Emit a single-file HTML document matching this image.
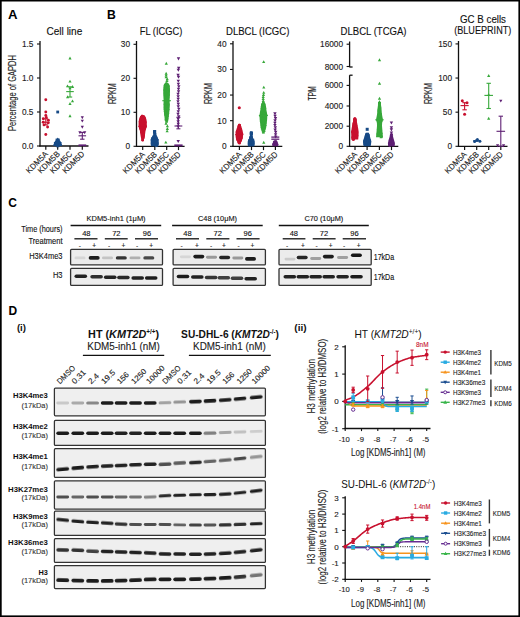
<!DOCTYPE html>
<html><head><meta charset="utf-8"><style>
html,body{margin:0;padding:0;background:#fff;}
body{width:520px;height:617px;overflow:hidden;font-family:"Liberation Sans", sans-serif;}
svg{display:block;}
</style></head><body>
<svg width="520" height="617" viewBox="0 0 520 617" font-family='"Liberation Sans", sans-serif'>
<rect x="0.00" y="0.00" width="520.00" height="617.00" fill="#fff" stroke="none" stroke-width="1" />
<defs><filter id="bl" x="-20%" y="-100%" width="140%" height="300%"><feGaussianBlur stdDeviation="0.7"/></filter><filter id="bl2" x="-20%" y="-100%" width="140%" height="300%"><feGaussianBlur stdDeviation="0.45"/></filter></defs>
<text x="8.00" y="19.00" font-size="13.2" text-anchor="start" fill="#000" font-weight="bold" >A</text>
<text x="107.00" y="19.20" font-size="12.2" text-anchor="start" fill="#000" font-weight="bold" >B</text>
<text x="8.20" y="206.70" font-size="12.0" text-anchor="start" fill="#000" font-weight="bold" >C</text>
<text x="8.40" y="314.80" font-size="12.0" text-anchor="start" fill="#000" font-weight="bold" >D</text>
<text x="46.50" y="35.00" font-size="10.3" text-anchor="start" fill="#111" stroke="#111" stroke-width="0.12" textLength="35.80" lengthAdjust="spacingAndGlyphs" >Cell line</text>
<text x="16.20" y="93.00" font-size="10.8" text-anchor="middle" fill="#222" stroke="#222" stroke-width="0.12" textLength="76.00" lengthAdjust="spacingAndGlyphs" transform="rotate(-90 16.20 93.00)" >Percentage of GAPDH</text>
<line x1="40.00" y1="41.00" x2="40.00" y2="146.60" stroke="#111" stroke-width="1.3" />
<line x1="37.00" y1="44.00" x2="40.00" y2="44.00" stroke="#111" stroke-width="1.1" />
<text x="33.50" y="47.00" font-size="8.3" text-anchor="end" fill="#222" stroke="#222" stroke-width="0.12" >1.5</text>
<line x1="37.00" y1="78.00" x2="40.00" y2="78.00" stroke="#111" stroke-width="1.1" />
<text x="33.50" y="81.00" font-size="8.3" text-anchor="end" fill="#222" stroke="#222" stroke-width="0.12" >1.0</text>
<line x1="37.00" y1="112.00" x2="40.00" y2="112.00" stroke="#111" stroke-width="1.1" />
<text x="33.50" y="115.00" font-size="8.3" text-anchor="end" fill="#222" stroke="#222" stroke-width="0.12" >0.5</text>
<line x1="37.00" y1="146.00" x2="40.00" y2="146.00" stroke="#111" stroke-width="1.1" />
<text x="33.50" y="149.00" font-size="8.3" text-anchor="end" fill="#222" stroke="#222" stroke-width="0.12" >0.0</text>
<line x1="39.40" y1="146.00" x2="88.50" y2="146.00" stroke="#111" stroke-width="1.3" />
<line x1="45.80" y1="146.00" x2="45.80" y2="149.80" stroke="#111" stroke-width="1.2" />
<line x1="57.70" y1="146.00" x2="57.70" y2="149.80" stroke="#111" stroke-width="1.2" />
<line x1="70.00" y1="146.00" x2="70.00" y2="149.80" stroke="#111" stroke-width="1.2" />
<line x1="82.30" y1="146.00" x2="82.30" y2="149.80" stroke="#111" stroke-width="1.2" />
<text x="48.60" y="154.60" font-size="8.2" text-anchor="end" fill="#222" stroke="#222" stroke-width="0.12" textLength="27.50" lengthAdjust="spacingAndGlyphs" transform="rotate(-45 48.60 154.60)" >KDM5A</text>
<text x="60.50" y="154.60" font-size="8.2" text-anchor="end" fill="#222" stroke="#222" stroke-width="0.12" textLength="27.50" lengthAdjust="spacingAndGlyphs" transform="rotate(-45 60.50 154.60)" >KDM5B</text>
<text x="72.80" y="154.60" font-size="8.2" text-anchor="end" fill="#222" stroke="#222" stroke-width="0.12" textLength="27.50" lengthAdjust="spacingAndGlyphs" transform="rotate(-45 72.80 154.60)" >KDM5C</text>
<text x="85.10" y="154.60" font-size="8.2" text-anchor="end" fill="#222" stroke="#222" stroke-width="0.12" textLength="27.50" lengthAdjust="spacingAndGlyphs" transform="rotate(-45 85.10 154.60)" >KDM5D</text>
<circle cx="45.80" cy="99.76" r="1.45" fill="#c8102e"/>
<circle cx="45.80" cy="112.00" r="1.45" fill="#c8102e"/>
<circle cx="45.80" cy="115.40" r="1.45" fill="#c8102e"/>
<circle cx="43.30" cy="118.80" r="1.45" fill="#c8102e"/>
<circle cx="48.40" cy="120.16" r="1.45" fill="#c8102e"/>
<circle cx="43.20" cy="122.20" r="1.45" fill="#c8102e"/>
<circle cx="48.20" cy="122.88" r="1.45" fill="#c8102e"/>
<circle cx="44.00" cy="124.92" r="1.45" fill="#c8102e"/>
<circle cx="47.60" cy="126.96" r="1.45" fill="#c8102e"/>
<circle cx="45.80" cy="134.44" r="1.45" fill="#c8102e"/>
<circle cx="46.30" cy="117.44" r="1.45" fill="#c8102e"/>
<line x1="42.00" y1="122.20" x2="49.60" y2="122.20" stroke="#c8102e" stroke-width="1.1" />
<line x1="45.80" y1="124.92" x2="45.80" y2="118.80" stroke="#c8102e" stroke-width="1.1" />
<line x1="43.60" y1="124.92" x2="48.00" y2="124.92" stroke="#c8102e" stroke-width="1.1" />
<line x1="43.60" y1="118.80" x2="48.00" y2="118.80" stroke="#c8102e" stroke-width="1.1" />
<rect x="56.30" y="110.60" width="2.80" height="2.80" fill="#174a86"/>
<path d="M56.90 138.50 L55.70 140.00 L54.20 142.50 L53.50 145.00 L53.50 146.00 L61.90 146.00 L61.90 145.00 L61.20 142.50 L59.70 140.00 L58.50 138.50Z" fill="#174a86"/>
<path d="M54.70 142.84L56.35 145.84L53.05 145.84Z" fill="#174a86"/>
<path d="M60.70 142.84L62.35 145.84L59.05 145.84Z" fill="#174a86"/>
<path d="M57.70 137.40L59.35 140.40L56.05 140.40Z" fill="#174a86"/>
<path d="M55.70 140.80L57.35 143.80L54.05 143.80Z" fill="#174a86"/>
<path d="M59.70 140.80L61.35 143.80L58.05 143.80Z" fill="#174a86"/>
<path d="M57.70 144.20L59.35 147.20L56.05 147.20Z" fill="#174a86"/>
<line x1="53.90" y1="142.60" x2="61.50" y2="142.60" stroke="#174a86" stroke-width="1.1" />
<line x1="57.70" y1="146.00" x2="57.70" y2="139.20" stroke="#174a86" stroke-width="1.1" />
<line x1="55.50" y1="146.00" x2="59.90" y2="146.00" stroke="#174a86" stroke-width="1.1" />
<line x1="55.50" y1="139.20" x2="59.90" y2="139.20" stroke="#174a86" stroke-width="1.1" />
<path d="M70.00 56.54L71.59 59.44L68.41 59.44Z" fill="#37a83a"/>
<path d="M70.00 79.66L71.59 82.56L68.41 82.56Z" fill="#37a83a"/>
<path d="M67.50 84.42L69.09 87.32L65.91 87.32Z" fill="#37a83a"/>
<path d="M72.60 85.10L74.19 88.00L71.00 88.00Z" fill="#37a83a"/>
<path d="M70.00 86.46L71.59 89.36L68.41 89.36Z" fill="#37a83a"/>
<path d="M67.60 95.30L69.19 98.20L66.00 98.20Z" fill="#37a83a"/>
<path d="M72.50 99.38L74.09 102.28L70.91 102.28Z" fill="#37a83a"/>
<path d="M70.00 102.10L71.59 105.00L68.41 105.00Z" fill="#37a83a"/>
<path d="M70.00 114.34L71.59 117.24L68.41 117.24Z" fill="#37a83a"/>
<line x1="66.20" y1="91.60" x2="73.80" y2="91.60" stroke="#37a83a" stroke-width="1.1" />
<line x1="70.00" y1="97.04" x2="70.00" y2="86.84" stroke="#37a83a" stroke-width="1.1" />
<line x1="67.80" y1="97.04" x2="72.20" y2="97.04" stroke="#37a83a" stroke-width="1.1" />
<line x1="67.80" y1="86.84" x2="72.20" y2="86.84" stroke="#37a83a" stroke-width="1.1" />
<path d="M82.30 119.18L83.89 116.28L80.70 116.28Z" fill="#5e1f73"/>
<path d="M82.30 122.58L83.89 119.68L80.70 119.68Z" fill="#5e1f73"/>
<path d="M82.30 128.70L83.89 125.80L80.70 125.80Z" fill="#5e1f73"/>
<path d="M79.90 134.14L81.49 131.24L78.30 131.24Z" fill="#5e1f73"/>
<path d="M84.70 134.14L86.30 131.24L83.11 131.24Z" fill="#5e1f73"/>
<line x1="78.50" y1="135.80" x2="86.10" y2="135.80" stroke="#5e1f73" stroke-width="1.1" />
<line x1="82.30" y1="139.20" x2="82.30" y2="132.40" stroke="#5e1f73" stroke-width="1.1" />
<line x1="80.10" y1="139.20" x2="84.50" y2="139.20" stroke="#5e1f73" stroke-width="1.1" />
<line x1="80.10" y1="132.40" x2="84.50" y2="132.40" stroke="#5e1f73" stroke-width="1.1" />
<line x1="78.50" y1="145.30" x2="86.20" y2="145.30" stroke="#5e1f73" stroke-width="1.8" />
<text x="139.80" y="35.00" font-size="10.3" text-anchor="start" fill="#111" stroke="#111" stroke-width="0.12" textLength="42.50" lengthAdjust="spacingAndGlyphs" >FL (ICGC)</text>
<text x="115.60" y="93.60" font-size="10.4" text-anchor="middle" fill="#222" stroke="#222" stroke-width="0.12" textLength="21.00" lengthAdjust="spacingAndGlyphs" transform="rotate(-90 115.60 93.60)" >RPKM</text>
<line x1="136.50" y1="41.00" x2="136.50" y2="146.90" stroke="#111" stroke-width="1.3" />
<line x1="133.50" y1="44.30" x2="136.50" y2="44.30" stroke="#111" stroke-width="1.1" />
<text x="130.00" y="47.30" font-size="8.3" text-anchor="end" fill="#222" stroke="#222" stroke-width="0.12" >30</text>
<line x1="133.50" y1="78.30" x2="136.50" y2="78.30" stroke="#111" stroke-width="1.1" />
<text x="130.00" y="81.30" font-size="8.3" text-anchor="end" fill="#222" stroke="#222" stroke-width="0.12" >20</text>
<line x1="133.50" y1="112.30" x2="136.50" y2="112.30" stroke="#111" stroke-width="1.1" />
<text x="130.00" y="115.30" font-size="8.3" text-anchor="end" fill="#222" stroke="#222" stroke-width="0.12" >10</text>
<line x1="133.50" y1="146.30" x2="136.50" y2="146.30" stroke="#111" stroke-width="1.1" />
<text x="130.00" y="149.30" font-size="8.3" text-anchor="end" fill="#222" stroke="#222" stroke-width="0.12" >0</text>
<line x1="135.90" y1="146.30" x2="184.60" y2="146.30" stroke="#111" stroke-width="1.3" />
<line x1="142.70" y1="146.30" x2="142.70" y2="150.10" stroke="#111" stroke-width="1.2" />
<line x1="154.80" y1="146.30" x2="154.80" y2="150.10" stroke="#111" stroke-width="1.2" />
<line x1="166.70" y1="146.30" x2="166.70" y2="150.10" stroke="#111" stroke-width="1.2" />
<line x1="178.50" y1="146.30" x2="178.50" y2="150.10" stroke="#111" stroke-width="1.2" />
<text x="145.50" y="154.90" font-size="8.2" text-anchor="end" fill="#222" stroke="#222" stroke-width="0.12" textLength="27.50" lengthAdjust="spacingAndGlyphs" transform="rotate(-45 145.50 154.90)" >KDM5A</text>
<text x="157.60" y="154.90" font-size="8.2" text-anchor="end" fill="#222" stroke="#222" stroke-width="0.12" textLength="27.50" lengthAdjust="spacingAndGlyphs" transform="rotate(-45 157.60 154.90)" >KDM5B</text>
<text x="169.50" y="154.90" font-size="8.2" text-anchor="end" fill="#222" stroke="#222" stroke-width="0.12" textLength="27.50" lengthAdjust="spacingAndGlyphs" transform="rotate(-45 169.50 154.90)" >KDM5C</text>
<text x="181.30" y="154.90" font-size="8.2" text-anchor="end" fill="#222" stroke="#222" stroke-width="0.12" textLength="27.50" lengthAdjust="spacingAndGlyphs" transform="rotate(-45 181.30 154.90)" >KDM5D</text>
<path d="M141.20 115.20 L139.90 117.00 L139.10 119.00 L138.60 121.50 L138.60 126.00 L139.20 128.50 L139.90 131.00 L140.30 134.00 L140.90 137.60 L141.70 140.50 L143.70 140.50 L144.50 137.60 L145.10 134.00 L145.50 131.00 L146.20 128.50 L146.80 126.00 L146.80 121.50 L146.30 119.00 L145.50 117.00 L144.20 115.20Z" fill="#c8102e"/>
<circle cx="140.60" cy="121.29" r="1.30" fill="#c8102e"/>
<circle cx="142.06" cy="115.98" r="1.30" fill="#c8102e"/>
<circle cx="142.13" cy="116.14" r="1.30" fill="#c8102e"/>
<circle cx="140.77" cy="125.56" r="1.30" fill="#c8102e"/>
<circle cx="140.53" cy="128.40" r="1.30" fill="#c8102e"/>
<circle cx="141.26" cy="117.23" r="1.30" fill="#c8102e"/>
<circle cx="140.95" cy="129.12" r="1.30" fill="#c8102e"/>
<circle cx="141.03" cy="124.07" r="1.30" fill="#c8102e"/>
<circle cx="143.29" cy="136.61" r="1.30" fill="#c8102e"/>
<circle cx="144.63" cy="128.17" r="1.30" fill="#c8102e"/>
<circle cx="141.42" cy="131.41" r="1.30" fill="#c8102e"/>
<circle cx="143.77" cy="130.38" r="1.30" fill="#c8102e"/>
<circle cx="141.49" cy="132.23" r="1.30" fill="#c8102e"/>
<circle cx="145.08" cy="127.17" r="1.30" fill="#c8102e"/>
<circle cx="144.71" cy="126.48" r="1.30" fill="#c8102e"/>
<circle cx="140.50" cy="119.59" r="1.30" fill="#c8102e"/>
<circle cx="144.69" cy="119.49" r="1.30" fill="#c8102e"/>
<circle cx="143.18" cy="137.15" r="1.30" fill="#c8102e"/>
<circle cx="142.70" cy="139.98" r="1.30" fill="#c8102e"/>
<circle cx="143.95" cy="117.97" r="1.30" fill="#c8102e"/>
<circle cx="140.06" cy="127.00" r="1.30" fill="#c8102e"/>
<circle cx="143.57" cy="116.46" r="1.30" fill="#c8102e"/>
<circle cx="145.08" cy="122.18" r="1.30" fill="#c8102e"/>
<circle cx="139.90" cy="126.26" r="1.30" fill="#c8102e"/>
<circle cx="141.10" cy="126.67" r="1.30" fill="#c8102e"/>
<circle cx="143.72" cy="131.94" r="1.30" fill="#c8102e"/>
<circle cx="144.34" cy="123.62" r="1.30" fill="#c8102e"/>
<circle cx="140.36" cy="126.39" r="1.30" fill="#c8102e"/>
<circle cx="140.31" cy="127.11" r="1.30" fill="#c8102e"/>
<circle cx="141.42" cy="117.33" r="1.30" fill="#c8102e"/>
<circle cx="142.95" cy="138.33" r="1.30" fill="#c8102e"/>
<circle cx="145.45" cy="126.11" r="1.30" fill="#c8102e"/>
<circle cx="143.57" cy="135.34" r="1.30" fill="#c8102e"/>
<circle cx="142.70" cy="140.15" r="1.30" fill="#c8102e"/>
<circle cx="141.52" cy="117.72" r="1.30" fill="#c8102e"/>
<circle cx="141.41" cy="130.82" r="1.30" fill="#c8102e"/>
<circle cx="144.13" cy="129.26" r="1.30" fill="#c8102e"/>
<circle cx="144.25" cy="117.62" r="1.30" fill="#c8102e"/>
<circle cx="140.24" cy="121.17" r="1.30" fill="#c8102e"/>
<circle cx="140.78" cy="127.60" r="1.30" fill="#c8102e"/>
<path d="M153.20 130.10 L153.20 136.00 L151.90 137.50 L150.80 139.50 L150.60 144.00 L151.20 146.30 L158.20 146.30 L158.80 144.00 L158.60 139.50 L157.50 137.50 L156.20 136.00 L156.20 130.10Z" fill="#174a86"/>
<rect x="155.38" y="143.52" width="2.60" height="2.60" fill="#174a86"/>
<rect x="154.73" y="136.16" width="2.60" height="2.60" fill="#174a86"/>
<rect x="153.07" y="130.64" width="2.60" height="2.60" fill="#174a86"/>
<rect x="152.10" y="136.61" width="2.60" height="2.60" fill="#174a86"/>
<rect x="153.13" y="130.35" width="2.60" height="2.60" fill="#174a86"/>
<rect x="155.37" y="137.57" width="2.60" height="2.60" fill="#174a86"/>
<rect x="153.13" y="130.87" width="2.60" height="2.60" fill="#174a86"/>
<rect x="153.72" y="133.18" width="2.60" height="2.60" fill="#174a86"/>
<rect x="155.05" y="138.25" width="2.60" height="2.60" fill="#174a86"/>
<rect x="155.53" y="143.26" width="2.60" height="2.60" fill="#174a86"/>
<rect x="152.77" y="135.54" width="2.60" height="2.60" fill="#174a86"/>
<rect x="154.36" y="135.77" width="2.60" height="2.60" fill="#174a86"/>
<rect x="151.59" y="140.27" width="2.60" height="2.60" fill="#174a86"/>
<rect x="154.92" y="144.45" width="2.60" height="2.60" fill="#174a86"/>
<rect x="151.25" y="137.63" width="2.60" height="2.60" fill="#174a86"/>
<rect x="152.56" y="135.44" width="2.60" height="2.60" fill="#174a86"/>
<rect x="154.10" y="135.16" width="2.60" height="2.60" fill="#174a86"/>
<rect x="152.34" y="135.87" width="2.60" height="2.60" fill="#174a86"/>
<rect x="155.83" y="142.23" width="2.60" height="2.60" fill="#174a86"/>
<rect x="150.90" y="138.50" width="2.60" height="2.60" fill="#174a86"/>
<rect x="151.56" y="142.91" width="2.60" height="2.60" fill="#174a86"/>
<rect x="151.27" y="137.13" width="2.60" height="2.60" fill="#174a86"/>
<rect x="155.35" y="142.48" width="2.60" height="2.60" fill="#174a86"/>
<rect x="155.52" y="140.28" width="2.60" height="2.60" fill="#174a86"/>
<path d="M165.30 82.70 L163.60 85.00 L163.20 90.00 L163.30 95.00 L163.60 100.00 L163.50 105.00 L163.60 109.00 L164.10 114.00 L164.70 119.00 L165.60 121.50 L167.60 121.50 L168.50 119.00 L169.10 114.00 L169.60 109.00 L169.70 105.00 L169.60 100.00 L169.90 95.00 L170.00 90.00 L169.60 85.00 L167.90 82.70Z" fill="#37a83a"/>
<path d="M166.93 118.52L168.36 121.12L165.50 121.12Z" fill="#37a83a"/>
<path d="M165.38 94.85L166.81 97.45L163.95 97.45Z" fill="#37a83a"/>
<path d="M167.79 99.59L169.22 102.19L166.36 102.19Z" fill="#37a83a"/>
<path d="M165.17 105.91L166.60 108.51L163.74 108.51Z" fill="#37a83a"/>
<path d="M164.89 106.95L166.32 109.55L163.46 109.55Z" fill="#37a83a"/>
<path d="M168.28 83.84L169.71 86.44L166.85 86.44Z" fill="#37a83a"/>
<path d="M167.98 111.20L169.41 113.80L166.55 113.80Z" fill="#37a83a"/>
<path d="M167.69 97.97L169.12 100.57L166.26 100.57Z" fill="#37a83a"/>
<path d="M166.80 118.73L168.23 121.33L165.37 121.33Z" fill="#37a83a"/>
<path d="M165.30 110.89L166.73 113.49L163.87 113.49Z" fill="#37a83a"/>
<path d="M165.45 86.09L166.88 88.69L164.02 88.69Z" fill="#37a83a"/>
<path d="M168.33 104.71L169.76 107.31L166.90 107.31Z" fill="#37a83a"/>
<path d="M168.25 85.02L169.68 87.62L166.82 87.62Z" fill="#37a83a"/>
<path d="M165.43 94.21L166.86 96.81L164.00 96.81Z" fill="#37a83a"/>
<path d="M165.65 113.41L167.08 116.01L164.22 116.01Z" fill="#37a83a"/>
<path d="M166.97 118.45L168.40 121.05L165.54 121.05Z" fill="#37a83a"/>
<path d="M165.40 87.21L166.83 89.81L163.97 89.81Z" fill="#37a83a"/>
<path d="M164.64 88.02L166.07 90.62L163.21 90.62Z" fill="#37a83a"/>
<path d="M168.58 93.11L170.01 95.71L167.15 95.71Z" fill="#37a83a"/>
<path d="M167.61 82.40L169.04 85.00L166.18 85.00Z" fill="#37a83a"/>
<path d="M168.29 107.29L169.72 109.89L166.86 109.89Z" fill="#37a83a"/>
<path d="M165.98 116.96L167.41 119.56L164.55 119.56Z" fill="#37a83a"/>
<path d="M164.81 102.00L166.24 104.60L163.38 104.60Z" fill="#37a83a"/>
<path d="M165.40 112.38L166.83 114.98L163.97 114.98Z" fill="#37a83a"/>
<path d="M165.10 85.18L166.53 87.78L163.67 87.78Z" fill="#37a83a"/>
<path d="M165.51 110.07L166.94 112.67L164.08 112.67Z" fill="#37a83a"/>
<path d="M168.31 101.77L169.74 104.37L166.88 104.37Z" fill="#37a83a"/>
<path d="M165.44 83.34L166.87 85.94L164.01 85.94Z" fill="#37a83a"/>
<path d="M164.90 90.90L166.33 93.50L163.47 93.50Z" fill="#37a83a"/>
<path d="M165.16 103.66L166.59 106.26L163.73 106.26Z" fill="#37a83a"/>
<path d="M164.98 105.49L166.41 108.09L163.55 108.09Z" fill="#37a83a"/>
<path d="M168.03 98.80L169.46 101.40L166.60 101.40Z" fill="#37a83a"/>
<path d="M168.73 89.58L170.16 92.18L167.30 92.18Z" fill="#37a83a"/>
<path d="M165.95 117.53L167.38 120.13L164.52 120.13Z" fill="#37a83a"/>
<path d="M165.20 84.61L166.63 87.21L163.77 87.21Z" fill="#37a83a"/>
<path d="M165.01 92.66L166.44 95.26L163.58 95.26Z" fill="#37a83a"/>
<path d="M168.58 88.01L170.01 90.61L167.15 90.61Z" fill="#37a83a"/>
<path d="M165.95 117.62L167.38 120.22L164.52 120.22Z" fill="#37a83a"/>
<path d="M167.74 106.60L169.17 109.20L166.31 109.20Z" fill="#37a83a"/>
<path d="M167.09 117.17L168.52 119.77L165.66 119.77Z" fill="#37a83a"/>
<path d="M166.80 118.87L168.23 121.47L165.37 121.47Z" fill="#37a83a"/>
<path d="M165.34 85.77L166.77 88.37L163.91 88.37Z" fill="#37a83a"/>
<path d="M167.91 97.86L169.34 100.46L166.48 100.46Z" fill="#37a83a"/>
<path d="M167.86 87.25L169.29 89.85L166.43 89.85Z" fill="#37a83a"/>
<path d="M168.23 94.91L169.66 97.51L166.80 97.51Z" fill="#37a83a"/>
<path d="M165.27 98.26L166.70 100.86L163.84 100.86Z" fill="#37a83a"/>
<path d="M168.08 101.72L169.51 104.32L166.65 104.32Z" fill="#37a83a"/>
<path d="M165.50 82.47L166.93 85.07L164.07 85.07Z" fill="#37a83a"/>
<path d="M167.77 83.31L169.20 85.91L166.34 85.91Z" fill="#37a83a"/>
<path d="M166.20 117.82L167.63 120.42L164.77 120.42Z" fill="#37a83a"/>
<path d="M168.37 84.27L169.80 86.87L166.94 86.87Z" fill="#37a83a"/>
<path d="M167.91 107.86L169.34 110.46L166.48 110.46Z" fill="#37a83a"/>
<path d="M168.26 102.59L169.69 105.19L166.83 105.19Z" fill="#37a83a"/>
<path d="M165.24 82.99L166.67 85.59L163.81 85.59Z" fill="#37a83a"/>
<path d="M165.20 86.69L166.63 89.29L163.77 89.29Z" fill="#37a83a"/>
<path d="M166.25 81.49L167.68 84.09L164.82 84.09Z" fill="#37a83a"/>
<path d="M165.78 82.87L167.21 85.47L164.35 85.47Z" fill="#37a83a"/>
<path d="M167.08 116.26L168.51 118.86L165.65 118.86Z" fill="#37a83a"/>
<path d="M166.60 119.81L168.03 122.41L165.17 122.41Z" fill="#37a83a"/>
<path d="M165.35 90.49L166.78 93.09L163.92 93.09Z" fill="#37a83a"/>
<path d="M164.99 109.37L166.42 111.97L163.56 111.97Z" fill="#37a83a"/>
<path d="M165.19 90.23L166.62 92.83L163.76 92.83Z" fill="#37a83a"/>
<path d="M168.30 92.48L169.73 95.08L166.87 95.08Z" fill="#37a83a"/>
<path d="M168.28 87.70L169.71 90.30L166.85 90.30Z" fill="#37a83a"/>
<path d="M168.49 86.45L169.92 89.05L167.06 89.05Z" fill="#37a83a"/>
<path d="M166.60 119.82L168.03 122.42L165.17 122.42Z" fill="#37a83a"/>
<path d="M165.40 110.43L166.83 113.03L163.97 113.03Z" fill="#37a83a"/>
<path d="M167.92 89.50L169.35 92.10L166.49 92.10Z" fill="#37a83a"/>
<path d="M167.54 114.29L168.97 116.89L166.11 116.89Z" fill="#37a83a"/>
<path d="M168.50 103.01L169.93 105.61L167.07 105.61Z" fill="#37a83a"/>
<path d="M166.29 61.76L167.89 64.66L164.70 64.66Z" fill="#37a83a"/>
<path d="M166.14 71.76L167.74 74.66L164.55 74.66Z" fill="#37a83a"/>
<path d="M166.17 73.56L167.76 76.46L164.57 76.46Z" fill="#37a83a"/>
<path d="M166.12 75.46L167.71 78.36L164.52 78.36Z" fill="#37a83a"/>
<path d="M167.21 77.26L168.81 80.16L165.62 80.16Z" fill="#37a83a"/>
<path d="M166.97 79.06L168.56 81.96L165.37 81.96Z" fill="#37a83a"/>
<path d="M166.02 121.76L167.62 124.66L164.43 124.66Z" fill="#37a83a"/>
<path d="M167.38 124.46L168.98 127.36L165.79 127.36Z" fill="#37a83a"/>
<path d="M167.37 127.06L168.97 129.96L165.78 129.96Z" fill="#37a83a"/>
<path d="M167.14 129.46L168.73 132.36L165.54 132.36Z" fill="#37a83a"/>
<path d="M165.82 140.66L167.42 143.56L164.23 143.56Z" fill="#37a83a"/>
<line x1="162.30" y1="100.70" x2="170.90" y2="100.70" stroke="#37a83a" stroke-width="1.1" />
<path d="M178.50 60.46L180.21 57.36L176.80 57.36Z" fill="#5e1f73"/>
<path d="M178.70 69.86L180.41 66.76L177.00 66.76Z" fill="#5e1f73"/>
<path d="M178.34 71.86L180.05 68.76L176.64 68.76Z" fill="#5e1f73"/>
<path d="M178.04 76.86L179.75 73.76L176.34 73.76Z" fill="#5e1f73"/>
<path d="M178.53 78.86L180.24 75.76L176.83 75.76Z" fill="#5e1f73"/>
<path d="M178.30 82.86L180.01 79.76L176.60 79.76Z" fill="#5e1f73"/>
<path d="M178.40 85.86L180.11 82.76L176.70 82.76Z" fill="#5e1f73"/>
<path d="M178.78 88.36L180.48 85.26L177.07 85.26Z" fill="#5e1f73"/>
<path d="M178.48 90.86L180.18 87.76L176.77 87.76Z" fill="#5e1f73"/>
<path d="M178.55 93.36L180.26 90.26L176.85 90.26Z" fill="#5e1f73"/>
<path d="M178.04 95.86L179.74 92.76L176.33 92.76Z" fill="#5e1f73"/>
<path d="M178.15 98.36L179.85 95.26L176.44 95.26Z" fill="#5e1f73"/>
<path d="M178.22 100.86L179.92 97.76L176.51 97.76Z" fill="#5e1f73"/>
<path d="M178.00 103.36L179.71 100.26L176.30 100.26Z" fill="#5e1f73"/>
<path d="M178.29 105.86L180.00 102.76L176.59 102.76Z" fill="#5e1f73"/>
<path d="M178.26 108.36L179.97 105.26L176.56 105.26Z" fill="#5e1f73"/>
<path d="M178.79 110.86L180.49 107.76L177.08 107.76Z" fill="#5e1f73"/>
<path d="M178.26 113.36L179.96 110.26L176.55 110.26Z" fill="#5e1f73"/>
<path d="M178.03 115.86L179.73 112.76L176.32 112.76Z" fill="#5e1f73"/>
<path d="M178.71 118.36L180.41 115.26L177.00 115.26Z" fill="#5e1f73"/>
<path d="M178.17 120.86L179.88 117.76L176.47 117.76Z" fill="#5e1f73"/>
<path d="M178.15 123.36L179.85 120.26L176.44 120.26Z" fill="#5e1f73"/>
<path d="M178.27 125.86L179.97 122.76L176.56 122.76Z" fill="#5e1f73"/>
<path d="M178.07 128.36L179.77 125.26L176.36 125.26Z" fill="#5e1f73"/>
<path d="M178.22 143.06L179.93 139.96L176.52 139.96Z" fill="#5e1f73"/>
<line x1="174.50" y1="126.00" x2="182.30" y2="126.00" stroke="#5e1f73" stroke-width="1.1" />
<line x1="178.40" y1="117.30" x2="178.40" y2="128.80" stroke="#5e1f73" stroke-width="1.1" />
<line x1="176.40" y1="117.30" x2="180.40" y2="117.30" stroke="#5e1f73" stroke-width="1.1" />
<line x1="176.40" y1="128.80" x2="180.40" y2="128.80" stroke="#5e1f73" stroke-width="1.1" />
<line x1="174.30" y1="145.40" x2="182.60" y2="145.40" stroke="#5e1f73" stroke-width="2.0" />
<line x1="138.70" y1="126.58" x2="146.70" y2="126.58" stroke="#c8102e" stroke-width="1.1" />
<line x1="142.70" y1="127.60" x2="142.70" y2="125.56" stroke="#c8102e" stroke-width="1.1" />
<line x1="140.70" y1="127.60" x2="144.70" y2="127.60" stroke="#c8102e" stroke-width="1.1" />
<line x1="140.70" y1="125.56" x2="144.70" y2="125.56" stroke="#c8102e" stroke-width="1.1" />
<line x1="150.70" y1="139.84" x2="158.70" y2="139.84" stroke="#174a86" stroke-width="1.1" />
<line x1="154.70" y1="140.52" x2="154.70" y2="139.16" stroke="#174a86" stroke-width="1.1" />
<line x1="152.70" y1="140.52" x2="156.70" y2="140.52" stroke="#174a86" stroke-width="1.1" />
<line x1="152.70" y1="139.16" x2="156.70" y2="139.16" stroke="#174a86" stroke-width="1.1" />
<text x="226.00" y="34.80" font-size="10.3" text-anchor="start" fill="#111" stroke="#111" stroke-width="0.12" textLength="63.40" lengthAdjust="spacingAndGlyphs" >DLBCL (ICGC)</text>
<text x="212.30" y="93.50" font-size="10.4" text-anchor="middle" fill="#222" stroke="#222" stroke-width="0.12" textLength="21.00" lengthAdjust="spacingAndGlyphs" transform="rotate(-90 212.30 93.50)" >RPKM</text>
<line x1="233.00" y1="41.00" x2="233.00" y2="146.90" stroke="#111" stroke-width="1.3" />
<line x1="230.00" y1="43.80" x2="233.00" y2="43.80" stroke="#111" stroke-width="1.1" />
<text x="226.50" y="46.80" font-size="8.3" text-anchor="end" fill="#222" stroke="#222" stroke-width="0.12" >40</text>
<line x1="230.00" y1="69.43" x2="233.00" y2="69.43" stroke="#111" stroke-width="1.1" />
<text x="226.50" y="72.43" font-size="8.3" text-anchor="end" fill="#222" stroke="#222" stroke-width="0.12" >30</text>
<line x1="230.00" y1="95.05" x2="233.00" y2="95.05" stroke="#111" stroke-width="1.1" />
<text x="226.50" y="98.05" font-size="8.3" text-anchor="end" fill="#222" stroke="#222" stroke-width="0.12" >20</text>
<line x1="230.00" y1="120.68" x2="233.00" y2="120.68" stroke="#111" stroke-width="1.1" />
<text x="226.50" y="123.68" font-size="8.3" text-anchor="end" fill="#222" stroke="#222" stroke-width="0.12" >10</text>
<line x1="230.00" y1="146.30" x2="233.00" y2="146.30" stroke="#111" stroke-width="1.1" />
<text x="226.50" y="149.30" font-size="8.3" text-anchor="end" fill="#222" stroke="#222" stroke-width="0.12" >0</text>
<line x1="232.40" y1="146.30" x2="282.30" y2="146.30" stroke="#111" stroke-width="1.3" />
<line x1="239.40" y1="146.30" x2="239.40" y2="150.10" stroke="#111" stroke-width="1.2" />
<line x1="251.50" y1="146.30" x2="251.50" y2="150.10" stroke="#111" stroke-width="1.2" />
<line x1="263.50" y1="146.30" x2="263.50" y2="150.10" stroke="#111" stroke-width="1.2" />
<line x1="275.40" y1="146.30" x2="275.40" y2="150.10" stroke="#111" stroke-width="1.2" />
<text x="242.20" y="154.90" font-size="8.2" text-anchor="end" fill="#222" stroke="#222" stroke-width="0.12" textLength="27.50" lengthAdjust="spacingAndGlyphs" transform="rotate(-45 242.20 154.90)" >KDM5A</text>
<text x="254.30" y="154.90" font-size="8.2" text-anchor="end" fill="#222" stroke="#222" stroke-width="0.12" textLength="27.50" lengthAdjust="spacingAndGlyphs" transform="rotate(-45 254.30 154.90)" >KDM5B</text>
<text x="266.30" y="154.90" font-size="8.2" text-anchor="end" fill="#222" stroke="#222" stroke-width="0.12" textLength="27.50" lengthAdjust="spacingAndGlyphs" transform="rotate(-45 266.30 154.90)" >KDM5C</text>
<text x="278.20" y="154.90" font-size="8.2" text-anchor="end" fill="#222" stroke="#222" stroke-width="0.12" textLength="27.50" lengthAdjust="spacingAndGlyphs" transform="rotate(-45 278.20 154.90)" >KDM5D</text>
<circle cx="239.30" cy="107.70" r="1.55" fill="#c8102e"/>
<path d="M238.10 125.10 L237.50 126.50 L236.70 128.50 L235.90 131.00 L235.40 134.40 L235.80 138.00 L236.80 141.00 L238.10 143.60 L240.50 143.60 L241.80 141.00 L242.80 138.00 L243.20 134.40 L242.70 131.00 L241.90 128.50 L241.10 126.50 L240.50 125.10Z" fill="#c8102e"/>
<circle cx="237.36" cy="136.53" r="1.30" fill="#c8102e"/>
<circle cx="239.35" cy="125.15" r="1.30" fill="#c8102e"/>
<circle cx="238.84" cy="126.51" r="1.30" fill="#c8102e"/>
<circle cx="238.41" cy="128.74" r="1.30" fill="#c8102e"/>
<circle cx="238.95" cy="142.83" r="1.30" fill="#c8102e"/>
<circle cx="241.37" cy="138.04" r="1.30" fill="#c8102e"/>
<circle cx="240.71" cy="138.13" r="1.30" fill="#c8102e"/>
<circle cx="238.01" cy="138.21" r="1.30" fill="#c8102e"/>
<circle cx="240.61" cy="140.54" r="1.30" fill="#c8102e"/>
<circle cx="237.72" cy="140.06" r="1.30" fill="#c8102e"/>
<circle cx="237.40" cy="138.81" r="1.30" fill="#c8102e"/>
<circle cx="237.71" cy="134.72" r="1.30" fill="#c8102e"/>
<circle cx="239.50" cy="125.51" r="1.30" fill="#c8102e"/>
<circle cx="240.85" cy="130.09" r="1.30" fill="#c8102e"/>
<circle cx="237.32" cy="135.82" r="1.30" fill="#c8102e"/>
<circle cx="239.26" cy="125.13" r="1.30" fill="#c8102e"/>
<circle cx="237.19" cy="132.77" r="1.30" fill="#c8102e"/>
<circle cx="239.50" cy="125.75" r="1.30" fill="#c8102e"/>
<circle cx="239.52" cy="125.83" r="1.30" fill="#c8102e"/>
<circle cx="237.50" cy="138.89" r="1.30" fill="#c8102e"/>
<circle cx="239.53" cy="143.16" r="1.30" fill="#c8102e"/>
<circle cx="239.62" cy="125.85" r="1.30" fill="#c8102e"/>
<circle cx="237.78" cy="135.55" r="1.30" fill="#c8102e"/>
<circle cx="239.85" cy="126.56" r="1.30" fill="#c8102e"/>
<circle cx="237.97" cy="137.46" r="1.30" fill="#c8102e"/>
<circle cx="239.58" cy="125.69" r="1.30" fill="#c8102e"/>
<circle cx="238.92" cy="126.08" r="1.30" fill="#c8102e"/>
<circle cx="240.41" cy="128.59" r="1.30" fill="#c8102e"/>
<circle cx="236.94" cy="131.90" r="1.30" fill="#c8102e"/>
<circle cx="241.93" cy="133.87" r="1.30" fill="#c8102e"/>
<circle cx="238.88" cy="142.44" r="1.30" fill="#c8102e"/>
<circle cx="239.65" cy="125.85" r="1.30" fill="#c8102e"/>
<circle cx="238.13" cy="130.27" r="1.30" fill="#c8102e"/>
<circle cx="239.70" cy="125.98" r="1.30" fill="#c8102e"/>
<circle cx="239.86" cy="126.40" r="1.30" fill="#c8102e"/>
<path d="M250.00 132.80 L249.90 134.00 L249.80 137.00 L248.80 139.00 L247.80 141.00 L247.60 144.00 L248.00 146.30 L254.40 146.30 L254.80 144.00 L254.60 141.00 L253.60 139.00 L252.60 137.00 L252.50 134.00 L252.40 132.80Z" fill="#174a86"/>
<rect x="248.14" y="140.36" width="2.60" height="2.60" fill="#174a86"/>
<rect x="251.21" y="143.29" width="2.60" height="2.60" fill="#174a86"/>
<rect x="249.93" y="131.53" width="2.60" height="2.60" fill="#174a86"/>
<rect x="249.41" y="136.57" width="2.60" height="2.60" fill="#174a86"/>
<rect x="249.45" y="136.21" width="2.60" height="2.60" fill="#174a86"/>
<rect x="249.93" y="131.51" width="2.60" height="2.60" fill="#174a86"/>
<rect x="249.81" y="132.36" width="2.60" height="2.60" fill="#174a86"/>
<rect x="251.40" y="143.64" width="2.60" height="2.60" fill="#174a86"/>
<rect x="249.97" y="131.97" width="2.60" height="2.60" fill="#174a86"/>
<rect x="251.61" y="138.77" width="2.60" height="2.60" fill="#174a86"/>
<rect x="248.32" y="141.30" width="2.60" height="2.60" fill="#174a86"/>
<rect x="249.95" y="131.87" width="2.60" height="2.60" fill="#174a86"/>
<rect x="249.99" y="132.57" width="2.60" height="2.60" fill="#174a86"/>
<rect x="250.10" y="135.38" width="2.60" height="2.60" fill="#174a86"/>
<rect x="249.17" y="136.83" width="2.60" height="2.60" fill="#174a86"/>
<rect x="248.14" y="139.27" width="2.60" height="2.60" fill="#174a86"/>
<rect x="249.94" y="131.86" width="2.60" height="2.60" fill="#174a86"/>
<rect x="251.69" y="141.25" width="2.60" height="2.60" fill="#174a86"/>
<rect x="248.49" y="143.78" width="2.60" height="2.60" fill="#174a86"/>
<rect x="250.39" y="136.68" width="2.60" height="2.60" fill="#174a86"/>
<path d="M262.20 102.30 L261.20 104.00 L260.70 107.00 L260.40 110.00 L259.80 113.00 L259.50 116.00 L259.70 120.00 L260.20 124.00 L260.70 128.00 L261.50 130.50 L262.40 132.50 L264.40 132.50 L265.30 130.50 L266.10 128.00 L266.60 124.00 L267.10 120.00 L267.30 116.00 L267.00 113.00 L266.40 110.00 L266.10 107.00 L265.60 104.00 L264.60 102.30Z" fill="#37a83a"/>
<path d="M264.74 124.00L266.17 126.60L263.31 126.60Z" fill="#37a83a"/>
<path d="M264.72 106.60L266.15 109.20L263.29 109.20Z" fill="#37a83a"/>
<path d="M261.39 111.27L262.82 113.87L259.96 113.87Z" fill="#37a83a"/>
<path d="M264.02 102.02L265.45 104.62L262.59 104.62Z" fill="#37a83a"/>
<path d="M265.98 113.03L267.41 115.63L264.55 115.63Z" fill="#37a83a"/>
<path d="M261.35 112.94L262.78 115.54L259.92 115.54Z" fill="#37a83a"/>
<path d="M262.23 106.76L263.66 109.36L260.80 109.36Z" fill="#37a83a"/>
<path d="M262.73 102.29L264.16 104.89L261.30 104.89Z" fill="#37a83a"/>
<path d="M262.02 126.67L263.45 129.27L260.59 129.27Z" fill="#37a83a"/>
<path d="M264.69 124.43L266.12 127.03L263.26 127.03Z" fill="#37a83a"/>
<path d="M262.10 124.27L263.53 126.87L260.67 126.87Z" fill="#37a83a"/>
<path d="M261.81 109.59L263.24 112.19L260.38 112.19Z" fill="#37a83a"/>
<path d="M264.97 117.41L266.40 120.01L263.54 120.01Z" fill="#37a83a"/>
<path d="M261.79 114.58L263.22 117.18L260.36 117.18Z" fill="#37a83a"/>
<path d="M263.95 128.86L265.38 131.46L262.52 131.46Z" fill="#37a83a"/>
<path d="M265.79 112.82L267.22 115.42L264.36 115.42Z" fill="#37a83a"/>
<path d="M262.83 128.26L264.26 130.86L261.40 130.86Z" fill="#37a83a"/>
<path d="M265.87 112.20L267.30 114.80L264.44 114.80Z" fill="#37a83a"/>
<path d="M261.44 114.13L262.87 116.73L260.01 116.73Z" fill="#37a83a"/>
<path d="M263.88 129.48L265.31 132.08L262.45 132.08Z" fill="#37a83a"/>
<path d="M262.31 106.89L263.74 109.49L260.88 109.49Z" fill="#37a83a"/>
<path d="M262.14 104.00L263.57 106.60L260.71 106.60Z" fill="#37a83a"/>
<path d="M264.53 123.31L265.96 125.91L263.10 125.91Z" fill="#37a83a"/>
<path d="M261.92 125.51L263.35 128.11L260.49 128.11Z" fill="#37a83a"/>
<path d="M262.03 106.42L263.46 109.02L260.60 109.02Z" fill="#37a83a"/>
<path d="M261.86 108.55L263.29 111.15L260.43 111.15Z" fill="#37a83a"/>
<path d="M265.71 115.57L267.14 118.17L264.28 118.17Z" fill="#37a83a"/>
<path d="M262.65 102.80L264.08 105.40L261.22 105.40Z" fill="#37a83a"/>
<path d="M263.15 129.81L264.58 132.41L261.72 132.41Z" fill="#37a83a"/>
<path d="M262.51 106.15L263.94 108.75L261.08 108.75Z" fill="#37a83a"/>
<path d="M264.64 108.49L266.07 111.09L263.21 111.09Z" fill="#37a83a"/>
<path d="M261.93 108.93L263.36 111.53L260.50 111.53Z" fill="#37a83a"/>
<path d="M262.48 106.48L263.91 109.08L261.05 109.08Z" fill="#37a83a"/>
<path d="M264.82 111.79L266.25 114.39L263.39 114.39Z" fill="#37a83a"/>
<path d="M264.28 105.26L265.71 107.86L262.85 107.86Z" fill="#37a83a"/>
<path d="M264.96 106.28L266.39 108.88L263.53 108.88Z" fill="#37a83a"/>
<path d="M262.01 106.24L263.44 108.84L260.58 108.84Z" fill="#37a83a"/>
<path d="M265.06 123.17L266.49 125.77L263.63 125.77Z" fill="#37a83a"/>
<path d="M264.74 105.38L266.17 107.98L263.31 107.98Z" fill="#37a83a"/>
<path d="M261.30 114.64L262.73 117.24L259.87 117.24Z" fill="#37a83a"/>
<path d="M262.40 105.45L263.83 108.05L260.97 108.05Z" fill="#37a83a"/>
<path d="M264.36 106.08L265.79 108.68L262.93 108.68Z" fill="#37a83a"/>
<path d="M261.10 119.38L262.53 121.98L259.67 121.98Z" fill="#37a83a"/>
<path d="M260.78 113.99L262.21 116.59L259.35 116.59Z" fill="#37a83a"/>
<path d="M264.12 103.83L265.55 106.43L262.69 106.43Z" fill="#37a83a"/>
<path d="M263.20 101.14L264.63 103.74L261.77 103.74Z" fill="#37a83a"/>
<path d="M261.96 122.83L263.39 125.43L260.53 125.43Z" fill="#37a83a"/>
<path d="M264.06 128.89L265.49 131.49L262.63 131.49Z" fill="#37a83a"/>
<path d="M263.40 130.89L264.83 133.49L261.97 133.49Z" fill="#37a83a"/>
<path d="M264.22 105.01L265.65 107.61L262.79 107.61Z" fill="#37a83a"/>
<path d="M265.45 121.02L266.88 123.62L264.02 123.62Z" fill="#37a83a"/>
<path d="M263.40 130.64L264.83 133.24L261.97 133.24Z" fill="#37a83a"/>
<path d="M263.43 100.79L264.86 103.39L262.00 103.39Z" fill="#37a83a"/>
<path d="M261.40 112.05L262.83 114.65L259.97 114.65Z" fill="#37a83a"/>
<path d="M264.63 124.79L266.06 127.39L263.20 127.39Z" fill="#37a83a"/>
<path d="M264.20 126.98L265.63 129.58L262.77 129.58Z" fill="#37a83a"/>
<path d="M261.96 122.65L263.39 125.25L260.53 125.25Z" fill="#37a83a"/>
<path d="M263.01 129.33L264.44 131.93L261.58 131.93Z" fill="#37a83a"/>
<path d="M264.44 123.93L265.87 126.53L263.01 126.53Z" fill="#37a83a"/>
<path d="M264.80 111.76L266.23 114.36L263.37 114.36Z" fill="#37a83a"/>
<path d="M263.05 101.33L264.48 103.93L261.62 103.93Z" fill="#37a83a"/>
<path d="M262.82 101.79L264.25 104.39L261.39 104.39Z" fill="#37a83a"/>
<path d="M263.93 128.90L265.36 131.50L262.50 131.50Z" fill="#37a83a"/>
<path d="M262.04 109.49L263.47 112.09L260.61 112.09Z" fill="#37a83a"/>
<path d="M265.28 123.11L266.71 125.71L263.85 125.71Z" fill="#37a83a"/>
<path d="M262.38 108.36L263.81 110.96L260.95 110.96Z" fill="#37a83a"/>
<path d="M264.82 106.46L266.25 109.06L263.39 109.06Z" fill="#37a83a"/>
<path d="M265.78 113.41L267.21 116.01L264.35 116.01Z" fill="#37a83a"/>
<path d="M263.77 129.21L265.20 131.81L262.34 131.81Z" fill="#37a83a"/>
<path d="M260.92 114.34L262.35 116.94L259.49 116.94Z" fill="#37a83a"/>
<path d="M263.69 60.16L265.28 63.06L262.09 63.06Z" fill="#37a83a"/>
<path d="M263.79 85.66L265.38 88.56L262.19 88.56Z" fill="#37a83a"/>
<path d="M263.73 90.96L265.32 93.86L262.13 93.86Z" fill="#37a83a"/>
<path d="M263.53 93.06L265.12 95.96L261.93 95.96Z" fill="#37a83a"/>
<path d="M263.19 95.06L264.79 97.96L261.60 97.96Z" fill="#37a83a"/>
<path d="M263.18 97.06L264.78 99.96L261.59 99.96Z" fill="#37a83a"/>
<path d="M263.23 99.06L264.83 101.96L261.64 101.96Z" fill="#37a83a"/>
<path d="M263.74 140.76L265.33 143.66L262.14 143.66Z" fill="#37a83a"/>
<line x1="258.90" y1="115.40" x2="267.90" y2="115.40" stroke="#37a83a" stroke-width="1.2" />
<path d="M274.96 115.46L276.67 112.36L273.26 112.36Z" fill="#5e1f73"/>
<path d="M275.06 117.86L276.76 114.76L273.35 114.76Z" fill="#5e1f73"/>
<path d="M275.50 120.16L277.21 117.06L273.80 117.06Z" fill="#5e1f73"/>
<path d="M275.10 122.46L276.80 119.36L273.39 119.36Z" fill="#5e1f73"/>
<path d="M274.95 124.76L276.66 121.66L273.25 121.66Z" fill="#5e1f73"/>
<path d="M274.93 127.06L276.63 123.96L273.22 123.96Z" fill="#5e1f73"/>
<path d="M275.34 129.36L277.05 126.26L273.64 126.26Z" fill="#5e1f73"/>
<path d="M275.16 131.66L276.87 128.56L273.46 128.56Z" fill="#5e1f73"/>
<path d="M275.68 133.96L277.39 130.86L273.98 130.86Z" fill="#5e1f73"/>
<path d="M275.61 136.26L277.31 133.16L273.90 133.16Z" fill="#5e1f73"/>
<path d="M275.69 138.56L277.40 135.46L273.99 135.46Z" fill="#5e1f73"/>
<path d="M274.30 140.50 L272.90 142.50 L272.10 144.40 L272.50 146.30 L278.10 146.30 L278.50 144.40 L277.70 142.50 L276.30 140.50Z" fill="#5e1f73"/>
<path d="M274.69 143.65L276.12 141.05L273.26 141.05Z" fill="#5e1f73"/>
<path d="M276.20 144.56L277.63 141.96L274.77 141.96Z" fill="#5e1f73"/>
<path d="M275.62 142.86L277.05 140.26L274.19 140.26Z" fill="#5e1f73"/>
<path d="M273.48 146.00L274.91 143.40L272.05 143.40Z" fill="#5e1f73"/>
<path d="M276.16 143.82L277.59 141.22L274.73 141.22Z" fill="#5e1f73"/>
<path d="M276.15 144.29L277.58 141.69L274.72 141.69Z" fill="#5e1f73"/>
<path d="M274.73 143.54L276.16 140.94L273.30 140.94Z" fill="#5e1f73"/>
<path d="M274.60 143.75L276.03 141.15L273.17 141.15Z" fill="#5e1f73"/>
<path d="M274.23 144.42L275.66 141.82L272.80 141.82Z" fill="#5e1f73"/>
<path d="M274.62 143.45L276.05 140.85L273.19 140.85Z" fill="#5e1f73"/>
<line x1="271.30" y1="137.10" x2="279.30" y2="137.10" stroke="#5e1f73" stroke-width="1.3" />
<line x1="271.30" y1="139.20" x2="279.30" y2="139.20" stroke="#5e1f73" stroke-width="1.3" />
<line x1="235.30" y1="134.51" x2="243.30" y2="134.51" stroke="#c8102e" stroke-width="1.1" />
<line x1="239.30" y1="135.28" x2="239.30" y2="133.74" stroke="#c8102e" stroke-width="1.1" />
<line x1="237.30" y1="135.28" x2="241.30" y2="135.28" stroke="#c8102e" stroke-width="1.1" />
<line x1="237.30" y1="133.74" x2="241.30" y2="133.74" stroke="#c8102e" stroke-width="1.1" />
<text x="340.60" y="34.80" font-size="10.3" text-anchor="start" fill="#111" stroke="#111" stroke-width="0.12" textLength="65.90" lengthAdjust="spacingAndGlyphs" >DLBCL (TCGA)</text>
<text x="315.60" y="93.40" font-size="10.4" text-anchor="middle" fill="#222" stroke="#222" stroke-width="0.12" textLength="14.40" lengthAdjust="spacingAndGlyphs" transform="rotate(-90 315.60 93.40)" >TPM</text>
<line x1="349.60" y1="41.50" x2="349.60" y2="67.30" stroke="#111" stroke-width="1.3" />
<line x1="349.60" y1="67.00" x2="352.60" y2="67.00" stroke="#111" stroke-width="1.3" />
<line x1="349.60" y1="75.20" x2="349.60" y2="146.90" stroke="#111" stroke-width="1.3" />
<line x1="349.60" y1="75.20" x2="352.60" y2="75.20" stroke="#111" stroke-width="1.3" />
<line x1="346.60" y1="44.20" x2="349.60" y2="44.20" stroke="#111" stroke-width="1.1" />
<text x="343.10" y="47.20" font-size="8.3" text-anchor="end" fill="#222" stroke="#222" stroke-width="0.12" >16000</text>
<line x1="346.60" y1="66.50" x2="349.60" y2="66.50" stroke="#111" stroke-width="1.1" />
<text x="343.10" y="69.50" font-size="8.3" text-anchor="end" fill="#222" stroke="#222" stroke-width="0.12" >8000</text>
<line x1="346.60" y1="85.40" x2="349.60" y2="85.40" stroke="#111" stroke-width="1.1" />
<text x="343.10" y="88.40" font-size="8.3" text-anchor="end" fill="#222" stroke="#222" stroke-width="0.12" >6000</text>
<line x1="346.60" y1="106.00" x2="349.60" y2="106.00" stroke="#111" stroke-width="1.1" />
<text x="343.10" y="109.00" font-size="8.3" text-anchor="end" fill="#222" stroke="#222" stroke-width="0.12" >4000</text>
<line x1="346.60" y1="126.20" x2="349.60" y2="126.20" stroke="#111" stroke-width="1.1" />
<text x="343.10" y="129.20" font-size="8.3" text-anchor="end" fill="#222" stroke="#222" stroke-width="0.12" >2000</text>
<line x1="346.60" y1="146.30" x2="349.60" y2="146.30" stroke="#111" stroke-width="1.1" />
<text x="343.10" y="149.30" font-size="8.3" text-anchor="end" fill="#222" stroke="#222" stroke-width="0.12" >0</text>
<line x1="349.00" y1="146.30" x2="398.30" y2="146.30" stroke="#111" stroke-width="1.3" />
<line x1="355.00" y1="146.30" x2="355.00" y2="150.10" stroke="#111" stroke-width="1.2" />
<line x1="367.10" y1="146.30" x2="367.10" y2="150.10" stroke="#111" stroke-width="1.2" />
<line x1="379.40" y1="146.30" x2="379.40" y2="150.10" stroke="#111" stroke-width="1.2" />
<line x1="391.50" y1="146.30" x2="391.50" y2="150.10" stroke="#111" stroke-width="1.2" />
<text x="357.80" y="154.90" font-size="8.2" text-anchor="end" fill="#222" stroke="#222" stroke-width="0.12" textLength="27.50" lengthAdjust="spacingAndGlyphs" transform="rotate(-45 357.80 154.90)" >KDM5A</text>
<text x="369.90" y="154.90" font-size="8.2" text-anchor="end" fill="#222" stroke="#222" stroke-width="0.12" textLength="27.50" lengthAdjust="spacingAndGlyphs" transform="rotate(-45 369.90 154.90)" >KDM5B</text>
<text x="382.20" y="154.90" font-size="8.2" text-anchor="end" fill="#222" stroke="#222" stroke-width="0.12" textLength="27.50" lengthAdjust="spacingAndGlyphs" transform="rotate(-45 382.20 154.90)" >KDM5C</text>
<text x="394.30" y="154.90" font-size="8.2" text-anchor="end" fill="#222" stroke="#222" stroke-width="0.12" textLength="27.50" lengthAdjust="spacingAndGlyphs" transform="rotate(-45 394.30 154.90)" >KDM5D</text>
<circle cx="354.90" cy="118.50" r="1.50" fill="#c8102e"/>
<path d="M353.50 119.00 L353.10 121.00 L352.40 124.20 L351.70 128.00 L351.10 132.00 L351.30 136.00 L351.60 139.60 L358.20 139.60 L358.50 136.00 L358.70 132.00 L358.10 128.00 L357.40 124.20 L356.70 121.00 L356.30 119.00Z" fill="#c8102e"/>
<circle cx="353.72" cy="139.40" r="1.30" fill="#c8102e"/>
<circle cx="352.73" cy="137.07" r="1.30" fill="#c8102e"/>
<circle cx="352.74" cy="137.75" r="1.30" fill="#c8102e"/>
<circle cx="354.32" cy="122.27" r="1.30" fill="#c8102e"/>
<circle cx="352.79" cy="139.02" r="1.30" fill="#c8102e"/>
<circle cx="353.78" cy="125.09" r="1.30" fill="#c8102e"/>
<circle cx="354.29" cy="122.79" r="1.30" fill="#c8102e"/>
<circle cx="356.44" cy="130.31" r="1.30" fill="#c8102e"/>
<circle cx="354.06" cy="125.01" r="1.30" fill="#c8102e"/>
<circle cx="353.15" cy="139.60" r="1.30" fill="#c8102e"/>
<circle cx="352.54" cy="131.64" r="1.30" fill="#c8102e"/>
<circle cx="356.99" cy="135.65" r="1.30" fill="#c8102e"/>
<circle cx="355.31" cy="121.35" r="1.30" fill="#c8102e"/>
<circle cx="355.14" cy="119.38" r="1.30" fill="#c8102e"/>
<circle cx="354.55" cy="119.76" r="1.30" fill="#c8102e"/>
<circle cx="352.70" cy="131.94" r="1.30" fill="#c8102e"/>
<circle cx="354.57" cy="120.09" r="1.30" fill="#c8102e"/>
<circle cx="355.81" cy="123.01" r="1.30" fill="#c8102e"/>
<circle cx="353.74" cy="126.13" r="1.30" fill="#c8102e"/>
<circle cx="356.57" cy="129.60" r="1.30" fill="#c8102e"/>
<circle cx="355.13" cy="119.22" r="1.30" fill="#c8102e"/>
<circle cx="355.91" cy="125.51" r="1.30" fill="#c8102e"/>
<circle cx="354.72" cy="119.07" r="1.30" fill="#c8102e"/>
<circle cx="356.88" cy="135.69" r="1.30" fill="#c8102e"/>
<circle cx="354.01" cy="124.92" r="1.30" fill="#c8102e"/>
<circle cx="354.60" cy="119.62" r="1.30" fill="#c8102e"/>
<circle cx="353.05" cy="137.65" r="1.30" fill="#c8102e"/>
<circle cx="353.51" cy="138.03" r="1.30" fill="#c8102e"/>
<circle cx="353.82" cy="123.24" r="1.30" fill="#c8102e"/>
<circle cx="355.34" cy="120.31" r="1.30" fill="#c8102e"/>
<rect x="365.70" y="127.80" width="3.00" height="3.00" fill="#174a86"/>
<path d="M365.80 132.70 L365.00 135.00 L364.00 138.00 L363.20 141.20 L363.30 144.00 L364.20 146.30 L370.20 146.30 L371.10 144.00 L371.20 141.20 L370.40 138.00 L369.40 135.00 L368.60 132.70Z" fill="#174a86"/>
<rect x="364.03" y="142.59" width="2.60" height="2.60" fill="#174a86"/>
<rect x="363.37" y="143.13" width="2.60" height="2.60" fill="#174a86"/>
<rect x="363.96" y="138.02" width="2.60" height="2.60" fill="#174a86"/>
<rect x="363.21" y="140.41" width="2.60" height="2.60" fill="#174a86"/>
<rect x="363.54" y="140.18" width="2.60" height="2.60" fill="#174a86"/>
<rect x="367.95" y="143.35" width="2.60" height="2.60" fill="#174a86"/>
<rect x="366.54" y="133.66" width="2.60" height="2.60" fill="#174a86"/>
<rect x="366.99" y="133.97" width="2.60" height="2.60" fill="#174a86"/>
<rect x="366.42" y="133.20" width="2.60" height="2.60" fill="#174a86"/>
<rect x="365.18" y="134.41" width="2.60" height="2.60" fill="#174a86"/>
<rect x="363.62" y="139.30" width="2.60" height="2.60" fill="#174a86"/>
<rect x="367.25" y="135.56" width="2.60" height="2.60" fill="#174a86"/>
<rect x="368.11" y="139.10" width="2.60" height="2.60" fill="#174a86"/>
<rect x="364.73" y="135.32" width="2.60" height="2.60" fill="#174a86"/>
<rect x="368.07" y="140.72" width="2.60" height="2.60" fill="#174a86"/>
<rect x="365.12" y="133.46" width="2.60" height="2.60" fill="#174a86"/>
<rect x="364.11" y="138.13" width="2.60" height="2.60" fill="#174a86"/>
<rect x="368.51" y="140.16" width="2.60" height="2.60" fill="#174a86"/>
<rect x="367.50" y="142.82" width="2.60" height="2.60" fill="#174a86"/>
<rect x="366.43" y="132.88" width="2.60" height="2.60" fill="#174a86"/>
<path d="M379.50 58.30L381.15 61.30L377.85 61.30Z" fill="#37a83a"/>
<path d="M379.50 81.70L381.15 84.70L377.85 84.70Z" fill="#37a83a"/>
<path d="M379.50 96.70L381.15 99.70L377.85 99.70Z" fill="#37a83a"/>
<path d="M378.30 101.90 L378.00 105.00 L377.50 108.80 L377.10 114.00 L376.10 119.60 L376.90 123.00 L377.00 125.80 L376.50 131.90 L376.00 137.30 L383.00 137.30 L382.50 131.90 L382.00 125.80 L382.10 123.00 L382.90 119.60 L381.90 114.00 L381.50 108.80 L381.00 105.00 L380.70 101.90Z" fill="#37a83a"/>
<path d="M378.65 126.73L380.14 129.43L377.17 129.43Z" fill="#37a83a"/>
<path d="M379.78 103.54L381.26 106.24L378.29 106.24Z" fill="#37a83a"/>
<path d="M377.62 118.29L379.11 120.99L376.14 120.99Z" fill="#37a83a"/>
<path d="M378.45 131.14L379.94 133.84L376.97 133.84Z" fill="#37a83a"/>
<path d="M379.41 101.93L380.89 104.63L377.92 104.63Z" fill="#37a83a"/>
<path d="M381.00 134.89L382.49 137.59L379.52 137.59Z" fill="#37a83a"/>
<path d="M378.19 127.16L379.67 129.86L376.70 129.86Z" fill="#37a83a"/>
<path d="M378.74 123.53L380.23 126.23L377.26 126.23Z" fill="#37a83a"/>
<path d="M380.19 111.38L381.67 114.08L378.70 114.08Z" fill="#37a83a"/>
<path d="M381.29 131.21L382.78 133.91L379.81 133.91Z" fill="#37a83a"/>
<path d="M380.92 116.03L382.41 118.73L379.44 118.73Z" fill="#37a83a"/>
<path d="M377.90 132.22L379.38 134.92L376.41 134.92Z" fill="#37a83a"/>
<path d="M378.50 121.13L379.98 123.83L377.01 123.83Z" fill="#37a83a"/>
<path d="M379.45 101.19L380.93 103.89L377.96 103.89Z" fill="#37a83a"/>
<path d="M380.68 121.64L382.16 124.34L379.19 124.34Z" fill="#37a83a"/>
<path d="M377.81 131.16L379.29 133.86L376.32 133.86Z" fill="#37a83a"/>
<path d="M378.81 107.78L380.29 110.48L377.32 110.48Z" fill="#37a83a"/>
<path d="M380.41 111.75L381.89 114.45L378.92 114.45Z" fill="#37a83a"/>
<path d="M378.39 120.16L379.88 122.86L376.91 122.86Z" fill="#37a83a"/>
<path d="M381.23 118.95L382.71 121.65L379.74 121.65Z" fill="#37a83a"/>
<path d="M380.67 112.23L382.15 114.93L379.18 114.93Z" fill="#37a83a"/>
<path d="M380.68 120.08L382.17 122.78L379.20 122.78Z" fill="#37a83a"/>
<path d="M379.39 102.30L380.87 105.00L377.90 105.00Z" fill="#37a83a"/>
<path d="M378.62 124.04L380.10 126.74L377.13 126.74Z" fill="#37a83a"/>
<path d="M381.24 118.42L382.73 121.12L379.76 121.12Z" fill="#37a83a"/>
<path d="M381.45 134.99L382.94 137.69L379.97 137.69Z" fill="#37a83a"/>
<path d="M378.71 124.12L380.19 126.82L377.22 126.82Z" fill="#37a83a"/>
<path d="M380.56 121.14L382.05 123.84L379.08 123.84Z" fill="#37a83a"/>
<path d="M378.80 111.93L380.28 114.63L377.31 114.63Z" fill="#37a83a"/>
<path d="M379.11 106.49L380.60 109.19L377.63 109.19Z" fill="#37a83a"/>
<path d="M379.50 100.34L380.99 103.04L378.01 103.04Z" fill="#37a83a"/>
<path d="M378.00 118.61L379.49 121.31L376.52 121.31Z" fill="#37a83a"/>
<path d="M378.89 109.31L380.38 112.01L377.41 112.01Z" fill="#37a83a"/>
<path d="M380.36 121.35L381.85 124.05L378.88 124.05Z" fill="#37a83a"/>
<path d="M379.48 100.63L380.97 103.33L378.00 103.33Z" fill="#37a83a"/>
<path d="M378.00 115.78L379.48 118.48L376.51 118.48Z" fill="#37a83a"/>
<path d="M380.79 130.10L382.28 132.80L379.31 132.80Z" fill="#37a83a"/>
<path d="M379.02 107.77L380.51 110.47L377.54 110.47Z" fill="#37a83a"/>
<path d="M380.78 127.64L382.27 130.34L379.30 130.34Z" fill="#37a83a"/>
<path d="M380.61 120.11L382.10 122.81L379.13 122.81Z" fill="#37a83a"/>
<path d="M378.40 131.51L379.89 134.21L376.92 134.21Z" fill="#37a83a"/>
<path d="M379.47 100.91L380.96 103.61L377.99 103.61Z" fill="#37a83a"/>
<path d="M379.43 101.73L380.92 104.43L377.95 104.43Z" fill="#37a83a"/>
<path d="M378.36 119.37L379.84 122.07L376.87 122.07Z" fill="#37a83a"/>
<path d="M380.03 105.65L381.52 108.35L378.55 108.35Z" fill="#37a83a"/>
<path d="M379.78 104.89L381.26 107.59L378.29 107.59Z" fill="#37a83a"/>
<path d="M380.71 121.40L382.19 124.10L379.22 124.10Z" fill="#37a83a"/>
<path d="M379.50 100.44L380.99 103.14L378.02 103.14Z" fill="#37a83a"/>
<path d="M380.70 116.42L382.18 119.12L379.21 119.12Z" fill="#37a83a"/>
<path d="M380.99 135.53L382.47 138.23L379.50 138.23Z" fill="#37a83a"/>
<line x1="375.30" y1="119.80" x2="383.70" y2="119.80" stroke="#37a83a" stroke-width="1.1" />
<path d="M391.40 124.56L393.10 121.46L389.69 121.46Z" fill="#5e1f73"/>
<path d="M391.40 129.36L393.10 126.26L389.69 126.26Z" fill="#5e1f73"/>
<path d="M391.40 131.46L393.10 128.36L389.69 128.36Z" fill="#5e1f73"/>
<path d="M391.40 134.56L393.10 131.46L389.69 131.46Z" fill="#5e1f73"/>
<path d="M390.20 134.50 L389.80 136.50 L388.80 140.00 L387.90 143.00 L388.20 146.30 L394.60 146.30 L394.90 143.00 L394.00 140.00 L393.00 136.50 L392.60 134.50Z" fill="#5e1f73"/>
<path d="M391.49 136.37L392.92 133.77L390.06 133.77Z" fill="#5e1f73"/>
<path d="M393.24 146.87L394.67 144.27L391.81 144.27Z" fill="#5e1f73"/>
<path d="M391.82 138.28L393.25 135.68L390.39 135.68Z" fill="#5e1f73"/>
<path d="M392.85 146.77L394.28 144.17L391.42 144.17Z" fill="#5e1f73"/>
<path d="M390.16 146.92L391.59 144.32L388.73 144.32Z" fill="#5e1f73"/>
<path d="M390.43 141.65L391.86 139.05L389.00 139.05Z" fill="#5e1f73"/>
<path d="M391.00 137.95L392.43 135.35L389.57 135.35Z" fill="#5e1f73"/>
<path d="M392.87 144.51L394.30 141.91L391.44 141.91Z" fill="#5e1f73"/>
<path d="M390.69 140.00L392.12 137.40L389.26 137.40Z" fill="#5e1f73"/>
<path d="M393.08 145.91L394.51 143.31L391.65 143.31Z" fill="#5e1f73"/>
<path d="M389.96 141.93L391.39 139.33L388.53 139.33Z" fill="#5e1f73"/>
<path d="M390.45 140.68L391.88 138.08L389.02 138.08Z" fill="#5e1f73"/>
<path d="M390.92 138.87L392.35 136.27L389.49 136.27Z" fill="#5e1f73"/>
<path d="M390.33 142.58L391.76 139.98L388.90 139.98Z" fill="#5e1f73"/>
<path d="M391.34 136.28L392.77 133.68L389.91 133.68Z" fill="#5e1f73"/>
<path d="M391.15 137.35L392.58 134.75L389.72 134.75Z" fill="#5e1f73"/>
<path d="M391.33 136.31L392.76 133.71L389.90 133.71Z" fill="#5e1f73"/>
<path d="M389.71 143.17L391.14 140.57L388.28 140.57Z" fill="#5e1f73"/>
<path d="M391.49 136.59L392.92 133.99L390.06 133.99Z" fill="#5e1f73"/>
<path d="M389.43 147.26L390.86 144.66L388.00 144.66Z" fill="#5e1f73"/>
<text x="460.00" y="23.30" font-size="10.3" text-anchor="start" fill="#111" stroke="#111" stroke-width="0.12" textLength="46.00" lengthAdjust="spacingAndGlyphs" >GC B cells</text>
<text x="454.20" y="34.20" font-size="10.3" text-anchor="start" fill="#111" stroke="#111" stroke-width="0.12" textLength="57.10" lengthAdjust="spacingAndGlyphs" >(BLUEPRINT)</text>
<text x="432.30" y="93.50" font-size="10.4" text-anchor="middle" fill="#222" stroke="#222" stroke-width="0.12" textLength="21.00" lengthAdjust="spacingAndGlyphs" transform="rotate(-90 432.30 93.50)" >RPKM</text>
<line x1="458.50" y1="41.00" x2="458.50" y2="146.90" stroke="#111" stroke-width="1.3" />
<line x1="455.50" y1="43.91" x2="458.50" y2="43.91" stroke="#111" stroke-width="1.1" />
<text x="452.00" y="46.91" font-size="8.3" text-anchor="end" fill="#222" stroke="#222" stroke-width="0.12" >150</text>
<line x1="455.50" y1="78.04" x2="458.50" y2="78.04" stroke="#111" stroke-width="1.1" />
<text x="452.00" y="81.04" font-size="8.3" text-anchor="end" fill="#222" stroke="#222" stroke-width="0.12" >100</text>
<line x1="455.50" y1="112.17" x2="458.50" y2="112.17" stroke="#111" stroke-width="1.1" />
<text x="452.00" y="115.17" font-size="8.3" text-anchor="end" fill="#222" stroke="#222" stroke-width="0.12" >50</text>
<line x1="455.50" y1="146.30" x2="458.50" y2="146.30" stroke="#111" stroke-width="1.1" />
<text x="452.00" y="149.30" font-size="8.3" text-anchor="end" fill="#222" stroke="#222" stroke-width="0.12" >0</text>
<line x1="457.90" y1="146.30" x2="507.50" y2="146.30" stroke="#111" stroke-width="1.3" />
<line x1="464.60" y1="146.30" x2="464.60" y2="150.10" stroke="#111" stroke-width="1.2" />
<line x1="476.70" y1="146.30" x2="476.70" y2="150.10" stroke="#111" stroke-width="1.2" />
<line x1="488.70" y1="146.30" x2="488.70" y2="150.10" stroke="#111" stroke-width="1.2" />
<line x1="500.80" y1="146.30" x2="500.80" y2="150.10" stroke="#111" stroke-width="1.2" />
<text x="467.40" y="154.90" font-size="8.2" text-anchor="end" fill="#222" stroke="#222" stroke-width="0.12" textLength="27.50" lengthAdjust="spacingAndGlyphs" transform="rotate(-45 467.40 154.90)" >KDM5A</text>
<text x="479.50" y="154.90" font-size="8.2" text-anchor="end" fill="#222" stroke="#222" stroke-width="0.12" textLength="27.50" lengthAdjust="spacingAndGlyphs" transform="rotate(-45 479.50 154.90)" >KDM5B</text>
<text x="491.50" y="154.90" font-size="8.2" text-anchor="end" fill="#222" stroke="#222" stroke-width="0.12" textLength="27.50" lengthAdjust="spacingAndGlyphs" transform="rotate(-45 491.50 154.90)" >KDM5C</text>
<text x="503.60" y="154.90" font-size="8.2" text-anchor="end" fill="#222" stroke="#222" stroke-width="0.12" textLength="27.50" lengthAdjust="spacingAndGlyphs" transform="rotate(-45 503.60 154.90)" >KDM5D</text>
<circle cx="462.30" cy="100.80" r="1.50" fill="#c8102e"/>
<circle cx="467.00" cy="102.70" r="1.50" fill="#c8102e"/>
<circle cx="464.60" cy="114.20" r="1.50" fill="#c8102e"/>
<line x1="460.50" y1="105.60" x2="468.70" y2="105.60" stroke="#c8102e" stroke-width="1.1" />
<line x1="464.60" y1="102.70" x2="464.60" y2="109.80" stroke="#c8102e" stroke-width="1.1" />
<line x1="462.40" y1="102.70" x2="466.80" y2="102.70" stroke="#c8102e" stroke-width="1.1" />
<line x1="462.40" y1="109.80" x2="466.80" y2="109.80" stroke="#c8102e" stroke-width="1.1" />
<circle cx="474.60" cy="141.50" r="1.50" fill="#174a86"/>
<circle cx="477.40" cy="139.40" r="1.50" fill="#174a86"/>
<circle cx="479.90" cy="141.30" r="1.50" fill="#174a86"/>
<line x1="473.20" y1="140.70" x2="480.20" y2="140.70" stroke="#174a86" stroke-width="1.1" />
<line x1="476.70" y1="140.00" x2="476.70" y2="141.30" stroke="#174a86" stroke-width="1.1" />
<line x1="475.20" y1="140.00" x2="478.20" y2="140.00" stroke="#174a86" stroke-width="1.1" />
<line x1="475.20" y1="141.30" x2="478.20" y2="141.30" stroke="#174a86" stroke-width="1.1" />
<path d="M488.70 74.06L490.30 76.96L487.10 76.96Z" fill="#37a83a"/>
<path d="M488.70 116.76L490.30 119.66L487.10 119.66Z" fill="#37a83a"/>
<path d="M488.70 93.06L490.30 95.96L487.10 95.96Z" fill="#37a83a"/>
<line x1="484.40" y1="95.40" x2="493.00" y2="95.40" stroke="#37a83a" stroke-width="1.1" />
<line x1="488.70" y1="83.30" x2="488.70" y2="108.50" stroke="#37a83a" stroke-width="1.1" />
<line x1="486.50" y1="83.30" x2="490.90" y2="83.30" stroke="#37a83a" stroke-width="1.1" />
<line x1="486.50" y1="108.50" x2="490.90" y2="108.50" stroke="#37a83a" stroke-width="1.1" />
<path d="M500.80 102.54L502.40 99.64L499.20 99.64Z" fill="#5e1f73"/>
<line x1="496.50" y1="131.30" x2="505.10" y2="131.30" stroke="#5e1f73" stroke-width="1.1" />
<line x1="500.80" y1="116.20" x2="500.80" y2="146.30" stroke="#5e1f73" stroke-width="1.1" />
<line x1="498.60" y1="116.20" x2="503.00" y2="116.20" stroke="#5e1f73" stroke-width="1.1" />
<line x1="498.60" y1="146.30" x2="503.00" y2="146.30" stroke="#5e1f73" stroke-width="1.1" />
<path d="M497.60 147.24L499.20 144.34L496.00 144.34Z" fill="#5e1f73"/>
<path d="M503.60 147.24L505.20 144.34L502.00 144.34Z" fill="#5e1f73"/>
<text x="62.50" y="232.10" font-size="8.4" text-anchor="end" fill="#111" stroke="#111" stroke-width="0.12" textLength="41.30" lengthAdjust="spacingAndGlyphs" >Time (hours)</text>
<text x="62.50" y="243.70" font-size="8.4" text-anchor="end" fill="#111" stroke="#111" stroke-width="0.12" textLength="34.00" lengthAdjust="spacingAndGlyphs" >Treatment</text>
<text x="62.50" y="259.00" font-size="8.4" text-anchor="end" fill="#111" stroke="#111" stroke-width="0.12" textLength="33.30" lengthAdjust="spacingAndGlyphs" >H3K4me3</text>
<text x="62.50" y="277.90" font-size="8.4" text-anchor="end" fill="#111" stroke="#111" stroke-width="0.12" textLength="9.60" lengthAdjust="spacingAndGlyphs" >H3</text>
<text x="86.50" y="220.60" font-size="7.4" text-anchor="start" fill="#111" stroke="#111" stroke-width="0.12" textLength="59.10" lengthAdjust="spacingAndGlyphs" >KDM5-inh1 (1&#956;M)</text>
<line x1="70.60" y1="225.40" x2="161.20" y2="225.40" stroke="#111" stroke-width="1.5" />
<text x="86.30" y="235.80" font-size="7.5" text-anchor="middle" fill="#111" stroke="#111" stroke-width="0.12" >48</text>
<text x="116.30" y="235.80" font-size="7.5" text-anchor="middle" fill="#111" stroke="#111" stroke-width="0.12" >72</text>
<text x="146.90" y="235.80" font-size="7.5" text-anchor="middle" fill="#111" stroke="#111" stroke-width="0.12" >96</text>
<line x1="74.40" y1="238.80" x2="97.50" y2="238.80" stroke="#111" stroke-width="1.3" />
<line x1="104.80" y1="238.80" x2="127.70" y2="238.80" stroke="#111" stroke-width="1.3" />
<line x1="135.00" y1="238.80" x2="158.00" y2="238.80" stroke="#111" stroke-width="1.3" />
<text x="79.80" y="248.00" font-size="6.6" text-anchor="middle" fill="#222" stroke="#222" stroke-width="0.12" >-</text>
<text x="94.20" y="248.00" font-size="6.6" text-anchor="middle" fill="#222" stroke="#222" stroke-width="0.12" >+</text>
<text x="109.00" y="248.00" font-size="6.6" text-anchor="middle" fill="#222" stroke="#222" stroke-width="0.12" >-</text>
<text x="123.50" y="248.00" font-size="6.6" text-anchor="middle" fill="#222" stroke="#222" stroke-width="0.12" >+</text>
<text x="137.00" y="248.00" font-size="6.6" text-anchor="middle" fill="#222" stroke="#222" stroke-width="0.12" >-</text>
<text x="151.30" y="248.00" font-size="6.6" text-anchor="middle" fill="#222" stroke="#222" stroke-width="0.12" >+</text>
<rect x="70.60" y="249.30" width="91.90" height="15.60" fill="#ececec" stroke="#333" stroke-width="1.3" rx="1"/>
<rect x="70.60" y="268.30" width="91.90" height="17.10" fill="#ececec" stroke="#333" stroke-width="1.3" rx="1"/>
<rect x="74.50" y="256.55" width="11.00" height="2.70" rx="1.35" fill="rgb(214,214,214)" filter="url(#bl2)"/>
<rect x="74.50" y="274.45" width="12.60" height="3.50" rx="1.75" fill="rgb(35,35,35)" filter="url(#bl2)"/>
<rect x="88.70" y="256.12" width="11.00" height="3.55" rx="1.77" fill="rgb(31,31,31)" filter="url(#bl2)"/>
<rect x="90.30" y="275.05" width="12.60" height="3.50" rx="1.75" fill="rgb(46,46,46)" filter="url(#bl2)"/>
<rect x="102.00" y="256.51" width="11.00" height="2.78" rx="1.39" fill="rgb(196,196,196)" filter="url(#bl2)"/>
<rect x="103.90" y="275.45" width="12.60" height="3.50" rx="1.75" fill="rgb(35,35,35)" filter="url(#bl2)"/>
<rect x="115.80" y="256.17" width="11.00" height="3.45" rx="1.73" fill="rgb(52,52,52)" filter="url(#bl2)"/>
<rect x="117.10" y="275.65" width="12.60" height="3.50" rx="1.75" fill="rgb(42,42,42)" filter="url(#bl2)"/>
<rect x="129.50" y="256.46" width="11.00" height="2.88" rx="1.44" fill="rgb(175,175,175)" filter="url(#bl2)"/>
<rect x="131.40" y="276.35" width="12.60" height="3.50" rx="1.75" fill="rgb(35,35,35)" filter="url(#bl2)"/>
<rect x="143.30" y="256.22" width="11.00" height="3.35" rx="1.68" fill="rgb(74,74,74)" filter="url(#bl2)"/>
<rect x="144.90" y="276.35" width="12.60" height="3.50" rx="1.75" fill="rgb(31,31,31)" filter="url(#bl2)"/>
<text x="198.00" y="220.60" font-size="7.4" text-anchor="start" fill="#111" stroke="#111" stroke-width="0.12" textLength="39.00" lengthAdjust="spacingAndGlyphs" >C48 (10&#956;M)</text>
<line x1="172.10" y1="225.40" x2="262.70" y2="225.40" stroke="#111" stroke-width="1.5" />
<text x="187.50" y="235.80" font-size="7.5" text-anchor="middle" fill="#111" stroke="#111" stroke-width="0.12" >48</text>
<text x="217.70" y="235.80" font-size="7.5" text-anchor="middle" fill="#111" stroke="#111" stroke-width="0.12" >72</text>
<text x="247.70" y="235.80" font-size="7.5" text-anchor="middle" fill="#111" stroke="#111" stroke-width="0.12" >96</text>
<line x1="176.00" y1="238.80" x2="199.00" y2="238.80" stroke="#111" stroke-width="1.3" />
<line x1="206.30" y1="238.80" x2="229.40" y2="238.80" stroke="#111" stroke-width="1.3" />
<line x1="236.50" y1="238.80" x2="259.60" y2="238.80" stroke="#111" stroke-width="1.3" />
<text x="181.70" y="248.00" font-size="6.6" text-anchor="middle" fill="#222" stroke="#222" stroke-width="0.12" >-</text>
<text x="197.00" y="248.00" font-size="6.6" text-anchor="middle" fill="#222" stroke="#222" stroke-width="0.12" >+</text>
<text x="211.00" y="248.00" font-size="6.6" text-anchor="middle" fill="#222" stroke="#222" stroke-width="0.12" >-</text>
<text x="224.00" y="248.00" font-size="6.6" text-anchor="middle" fill="#222" stroke="#222" stroke-width="0.12" >+</text>
<text x="238.50" y="248.00" font-size="6.6" text-anchor="middle" fill="#222" stroke="#222" stroke-width="0.12" >-</text>
<text x="252.50" y="248.00" font-size="6.6" text-anchor="middle" fill="#222" stroke="#222" stroke-width="0.12" >+</text>
<rect x="173.10" y="249.30" width="92.30" height="15.60" fill="#ececec" stroke="#333" stroke-width="1.3" rx="1"/>
<rect x="173.10" y="268.30" width="92.30" height="17.10" fill="#ececec" stroke="#333" stroke-width="1.3" rx="1"/>
<rect x="179.90" y="255.45" width="11.00" height="2.70" rx="1.35" fill="rgb(214,214,214)" filter="url(#bl2)"/>
<rect x="176.70" y="274.65" width="12.60" height="3.50" rx="1.75" fill="rgb(31,31,31)" filter="url(#bl2)"/>
<rect x="193.30" y="254.83" width="11.00" height="3.55" rx="1.77" fill="rgb(31,31,31)" filter="url(#bl2)"/>
<rect x="191.00" y="275.15" width="12.60" height="3.50" rx="1.75" fill="rgb(35,35,35)" filter="url(#bl2)"/>
<rect x="206.00" y="255.71" width="11.00" height="2.98" rx="1.49" fill="rgb(153,153,153)" filter="url(#bl2)"/>
<rect x="204.80" y="275.65" width="12.60" height="3.50" rx="1.75" fill="rgb(52,52,52)" filter="url(#bl2)"/>
<rect x="219.10" y="255.64" width="11.00" height="3.52" rx="1.76" fill="rgb(37,37,37)" filter="url(#bl2)"/>
<rect x="217.50" y="276.05" width="12.60" height="3.50" rx="1.75" fill="rgb(63,63,63)" filter="url(#bl2)"/>
<rect x="232.30" y="256.51" width="11.00" height="2.98" rx="1.49" fill="rgb(153,153,153)" filter="url(#bl2)"/>
<rect x="230.70" y="276.45" width="12.60" height="3.50" rx="1.75" fill="rgb(63,63,63)" filter="url(#bl2)"/>
<rect x="245.00" y="257.12" width="11.00" height="3.55" rx="1.77" fill="rgb(31,31,31)" filter="url(#bl2)"/>
<rect x="244.40" y="276.95" width="12.60" height="3.50" rx="1.75" fill="rgb(35,35,35)" filter="url(#bl2)"/>
<text x="304.40" y="220.60" font-size="7.4" text-anchor="start" fill="#111" stroke="#111" stroke-width="0.12" textLength="38.90" lengthAdjust="spacingAndGlyphs" >C70 (10&#956;M)</text>
<line x1="278.80" y1="225.40" x2="368.80" y2="225.40" stroke="#111" stroke-width="1.5" />
<text x="293.80" y="235.80" font-size="7.5" text-anchor="middle" fill="#111" stroke="#111" stroke-width="0.12" >48</text>
<text x="324.00" y="235.80" font-size="7.5" text-anchor="middle" fill="#111" stroke="#111" stroke-width="0.12" >72</text>
<text x="354.40" y="235.80" font-size="7.5" text-anchor="middle" fill="#111" stroke="#111" stroke-width="0.12" >96</text>
<line x1="282.70" y1="238.80" x2="305.40" y2="238.80" stroke="#111" stroke-width="1.3" />
<line x1="312.70" y1="238.80" x2="335.60" y2="238.80" stroke="#111" stroke-width="1.3" />
<line x1="342.70" y1="238.80" x2="366.00" y2="238.80" stroke="#111" stroke-width="1.3" />
<text x="287.10" y="248.00" font-size="6.6" text-anchor="middle" fill="#222" stroke="#222" stroke-width="0.12" >-</text>
<text x="303.00" y="248.00" font-size="6.6" text-anchor="middle" fill="#222" stroke="#222" stroke-width="0.12" >+</text>
<text x="316.50" y="248.00" font-size="6.6" text-anchor="middle" fill="#222" stroke="#222" stroke-width="0.12" >-</text>
<text x="330.80" y="248.00" font-size="6.6" text-anchor="middle" fill="#222" stroke="#222" stroke-width="0.12" >+</text>
<text x="344.20" y="248.00" font-size="6.6" text-anchor="middle" fill="#222" stroke="#222" stroke-width="0.12" >-</text>
<text x="358.70" y="248.00" font-size="6.6" text-anchor="middle" fill="#222" stroke="#222" stroke-width="0.12" >+</text>
<rect x="279.00" y="249.30" width="92.20" height="15.60" fill="#ececec" stroke="#333" stroke-width="1.3" rx="1"/>
<rect x="279.00" y="268.30" width="92.20" height="17.10" fill="#ececec" stroke="#333" stroke-width="1.3" rx="1"/>
<rect x="284.50" y="257.73" width="11.00" height="2.75" rx="1.38" fill="rgb(203,203,203)" filter="url(#bl2)"/>
<rect x="283.50" y="275.05" width="12.60" height="3.50" rx="1.75" fill="rgb(35,35,35)" filter="url(#bl2)"/>
<rect x="296.70" y="255.74" width="11.00" height="3.52" rx="1.76" fill="rgb(37,37,37)" filter="url(#bl2)"/>
<rect x="296.50" y="275.05" width="12.60" height="3.50" rx="1.75" fill="rgb(35,35,35)" filter="url(#bl2)"/>
<rect x="310.20" y="257.02" width="11.00" height="2.95" rx="1.48" fill="rgb(160,160,160)" filter="url(#bl2)"/>
<rect x="309.40" y="275.05" width="12.60" height="3.50" rx="1.75" fill="rgb(35,35,35)" filter="url(#bl2)"/>
<rect x="322.90" y="254.83" width="11.00" height="3.55" rx="1.77" fill="rgb(31,31,31)" filter="url(#bl2)"/>
<rect x="322.40" y="275.05" width="12.60" height="3.50" rx="1.75" fill="rgb(35,35,35)" filter="url(#bl2)"/>
<rect x="337.10" y="256.02" width="11.00" height="2.95" rx="1.48" fill="rgb(160,160,160)" filter="url(#bl2)"/>
<rect x="336.30" y="275.05" width="12.60" height="3.50" rx="1.75" fill="rgb(35,35,35)" filter="url(#bl2)"/>
<rect x="350.90" y="253.41" width="11.00" height="3.58" rx="1.79" fill="rgb(24,24,24)" filter="url(#bl2)"/>
<rect x="350.20" y="275.05" width="12.60" height="3.50" rx="1.75" fill="rgb(31,31,31)" filter="url(#bl2)"/>
<text x="373.70" y="259.80" font-size="8.2" text-anchor="start" fill="#111" stroke="#111" stroke-width="0.12" textLength="20.50" lengthAdjust="spacingAndGlyphs" >17kDa</text>
<text x="373.70" y="279.60" font-size="8.2" text-anchor="start" fill="#111" stroke="#111" stroke-width="0.12" textLength="20.50" lengthAdjust="spacingAndGlyphs" >17kDa</text>
<text x="16.90" y="331.00" font-size="9.0" text-anchor="start" fill="#111" font-weight="bold" textLength="9.10" lengthAdjust="spacingAndGlyphs" >(i)</text>
<text x="88.1" y="337.5" font-size="10.6" font-weight="bold" fill="#111" textLength="71.1" lengthAdjust="spacingAndGlyphs">HT (<tspan font-style="italic">KMT2D</tspan><tspan font-size="6.3" dy="-3.4">+/+</tspan><tspan dy="3.4">)</tspan></text>
<text x="87.30" y="349.60" font-size="10.6" text-anchor="start" fill="#222" stroke="#222" stroke-width="0.12" textLength="72.50" lengthAdjust="spacingAndGlyphs" >KDM5-inh1 (nM)</text>
<line x1="82.90" y1="355.40" x2="164.20" y2="355.40" stroke="#111" stroke-width="1.4" />
<text x="181.1" y="337.6" font-size="10.6" font-weight="bold" fill="#111" textLength="97.8" lengthAdjust="spacingAndGlyphs">SU-DHL-6 (<tspan font-style="italic">KMT2D</tspan><tspan font-size="6.3" dy="-3.4">-/-</tspan><tspan dy="3.4">)</tspan></text>
<text x="193.10" y="349.60" font-size="10.6" text-anchor="start" fill="#222" stroke="#222" stroke-width="0.12" textLength="72.70" lengthAdjust="spacingAndGlyphs" >KDM5-inh1 (nM)</text>
<line x1="188.90" y1="355.40" x2="270.80" y2="355.40" stroke="#111" stroke-width="1.4" />
<text x="59.94" y="384.60" font-size="7.8" text-anchor="start" fill="#222" stroke="#222" stroke-width="0.12" textLength="22.50" lengthAdjust="spacingAndGlyphs" transform="rotate(-45 59.94 384.60)" >DMSO</text>
<text x="74.81" y="384.60" font-size="7.8" text-anchor="start" fill="#222" stroke="#222" stroke-width="0.12" textLength="16.50" lengthAdjust="spacingAndGlyphs" transform="rotate(-45 74.81 384.60)" >0.31</text>
<text x="91.38" y="384.60" font-size="7.8" text-anchor="start" fill="#222" stroke="#222" stroke-width="0.12" textLength="11.50" lengthAdjust="spacingAndGlyphs" transform="rotate(-45 91.38 384.60)" >2.4</text>
<text x="104.15" y="384.60" font-size="7.8" text-anchor="start" fill="#222" stroke="#222" stroke-width="0.12" textLength="16.50" lengthAdjust="spacingAndGlyphs" transform="rotate(-45 104.15 384.60)" >19.5</text>
<text x="120.02" y="384.60" font-size="7.8" text-anchor="start" fill="#222" stroke="#222" stroke-width="0.12" textLength="13.50" lengthAdjust="spacingAndGlyphs" transform="rotate(-45 120.02 384.60)" >156</text>
<text x="134.29" y="384.60" font-size="7.8" text-anchor="start" fill="#222" stroke="#222" stroke-width="0.12" textLength="18.00" lengthAdjust="spacingAndGlyphs" transform="rotate(-45 134.29 384.60)" >1250</text>
<text x="149.36" y="384.60" font-size="7.8" text-anchor="start" fill="#222" stroke="#222" stroke-width="0.12" textLength="22.50" lengthAdjust="spacingAndGlyphs" transform="rotate(-45 149.36 384.60)" >10000</text>
<text x="165.44" y="384.60" font-size="7.8" text-anchor="start" fill="#222" stroke="#222" stroke-width="0.12" textLength="22.50" lengthAdjust="spacingAndGlyphs" transform="rotate(-45 165.44 384.60)" >DMSO</text>
<text x="180.31" y="384.60" font-size="7.8" text-anchor="start" fill="#222" stroke="#222" stroke-width="0.12" textLength="16.50" lengthAdjust="spacingAndGlyphs" transform="rotate(-45 180.31 384.60)" >0.31</text>
<text x="196.88" y="384.60" font-size="7.8" text-anchor="start" fill="#222" stroke="#222" stroke-width="0.12" textLength="11.50" lengthAdjust="spacingAndGlyphs" transform="rotate(-45 196.88 384.60)" >2.4</text>
<text x="209.65" y="384.60" font-size="7.8" text-anchor="start" fill="#222" stroke="#222" stroke-width="0.12" textLength="16.50" lengthAdjust="spacingAndGlyphs" transform="rotate(-45 209.65 384.60)" >19.5</text>
<text x="225.52" y="384.60" font-size="7.8" text-anchor="start" fill="#222" stroke="#222" stroke-width="0.12" textLength="13.50" lengthAdjust="spacingAndGlyphs" transform="rotate(-45 225.52 384.60)" >156</text>
<text x="239.79" y="384.60" font-size="7.8" text-anchor="start" fill="#222" stroke="#222" stroke-width="0.12" textLength="18.00" lengthAdjust="spacingAndGlyphs" transform="rotate(-45 239.79 384.60)" >1250</text>
<text x="254.86" y="384.60" font-size="7.8" text-anchor="start" fill="#222" stroke="#222" stroke-width="0.12" textLength="22.50" lengthAdjust="spacingAndGlyphs" transform="rotate(-45 254.86 384.60)" >10000</text>
<rect x="54.40" y="388.10" width="211.00" height="27.70" fill="#efefef" stroke="#333" stroke-width="1.25" rx="1"/>
<text x="47.90" y="398.30" font-size="8.0" text-anchor="end" fill="#111" font-weight="bold" textLength="35.00" lengthAdjust="spacingAndGlyphs" >H3K4me3</text>
<text x="47.90" y="407.70" font-size="7.8" text-anchor="end" fill="#333" stroke="#333" stroke-width="0.12" textLength="26.40" lengthAdjust="spacingAndGlyphs" >(17kDa)</text>
<rect x="54.40" y="420.40" width="211.00" height="25.00" fill="#efefef" stroke="#333" stroke-width="1.25" rx="1"/>
<text x="47.90" y="428.50" font-size="8.0" text-anchor="end" fill="#111" font-weight="bold" textLength="35.00" lengthAdjust="spacingAndGlyphs" >H3K4me2</text>
<text x="47.90" y="437.90" font-size="7.8" text-anchor="end" fill="#333" stroke="#333" stroke-width="0.12" textLength="26.40" lengthAdjust="spacingAndGlyphs" >(17kDa)</text>
<rect x="54.40" y="448.70" width="211.00" height="28.70" fill="#efefef" stroke="#333" stroke-width="1.25" rx="1"/>
<text x="47.90" y="459.40" font-size="8.0" text-anchor="end" fill="#111" font-weight="bold" textLength="35.00" lengthAdjust="spacingAndGlyphs" >H3K4me1</text>
<text x="47.90" y="468.90" font-size="7.8" text-anchor="end" fill="#333" stroke="#333" stroke-width="0.12" textLength="26.40" lengthAdjust="spacingAndGlyphs" >(17kDa)</text>
<rect x="54.40" y="480.80" width="211.00" height="28.20" fill="#efefef" stroke="#333" stroke-width="1.25" rx="1"/>
<text x="47.90" y="492.10" font-size="8.0" text-anchor="end" fill="#111" font-weight="bold" textLength="39.80" lengthAdjust="spacingAndGlyphs" >H3K27me3</text>
<text x="47.90" y="500.20" font-size="7.8" text-anchor="end" fill="#333" stroke="#333" stroke-width="0.12" textLength="26.40" lengthAdjust="spacingAndGlyphs" >(17kDa)</text>
<rect x="54.40" y="511.20" width="211.00" height="24.20" fill="#efefef" stroke="#333" stroke-width="1.25" rx="1"/>
<text x="47.90" y="518.50" font-size="8.0" text-anchor="end" fill="#111" font-weight="bold" textLength="35.00" lengthAdjust="spacingAndGlyphs" >H3K9me3</text>
<text x="47.90" y="527.40" font-size="7.8" text-anchor="end" fill="#333" stroke="#333" stroke-width="0.12" textLength="26.40" lengthAdjust="spacingAndGlyphs" >(17kDa)</text>
<rect x="54.40" y="538.70" width="211.00" height="23.70" fill="#efefef" stroke="#333" stroke-width="1.25" rx="1"/>
<text x="47.90" y="545.40" font-size="8.0" text-anchor="end" fill="#111" font-weight="bold" textLength="39.80" lengthAdjust="spacingAndGlyphs" >H3K36me3</text>
<text x="47.90" y="554.00" font-size="7.8" text-anchor="end" fill="#333" stroke="#333" stroke-width="0.12" textLength="26.40" lengthAdjust="spacingAndGlyphs" >(17kDa)</text>
<rect x="54.40" y="565.60" width="211.00" height="22.90" fill="#efefef" stroke="#333" stroke-width="1.25" rx="1"/>
<text x="47.90" y="575.00" font-size="8.0" text-anchor="end" fill="#111" font-weight="bold" textLength="9.40" lengthAdjust="spacingAndGlyphs" >H3</text>
<text x="47.90" y="583.10" font-size="7.8" text-anchor="end" fill="#333" stroke="#333" stroke-width="0.12" textLength="26.40" lengthAdjust="spacingAndGlyphs" >(17kDa)</text>
<rect x="56.30" y="401.58" width="12.80" height="2.84" rx="1.42" fill="rgb(201,201,201)" filter="url(#bl2)"/>
<rect x="71.40" y="401.51" width="12.80" height="2.97" rx="1.48" fill="rgb(170,170,170)" filter="url(#bl2)"/>
<rect x="86.20" y="401.44" width="12.80" height="3.11" rx="1.56" fill="rgb(136,136,136)" filter="url(#bl2)"/>
<rect x="100.80" y="401.22" width="12.80" height="3.56" rx="1.78" fill="rgb(31,31,31)" filter="url(#bl2)"/>
<rect x="114.70" y="401.22" width="12.80" height="3.56" rx="1.78" fill="rgb(31,31,31)" filter="url(#bl2)"/>
<rect x="129.10" y="401.22" width="12.80" height="3.56" rx="1.78" fill="rgb(31,31,31)" filter="url(#bl2)"/>
<rect x="143.80" y="401.22" width="12.80" height="3.56" rx="1.78" fill="rgb(31,31,31)" filter="url(#bl2)" transform="rotate(-0.58 150.20 403.00)"/>
<rect x="158.60" y="401.20" width="12.80" height="3.01" rx="1.50" fill="rgb(162,162,162)" filter="url(#bl2)" transform="rotate(-1.94 165.00 402.70)"/>
<rect x="173.30" y="400.47" width="12.80" height="3.06" rx="1.53" fill="rgb(149,149,149)" filter="url(#bl2)" transform="rotate(-2.07 179.70 402.00)"/>
<rect x="189.00" y="399.82" width="12.80" height="3.56" rx="1.78" fill="rgb(31,31,31)" filter="url(#bl2)" transform="rotate(-2.08 195.40 401.60)"/>
<rect x="203.60" y="399.12" width="12.80" height="3.56" rx="1.78" fill="rgb(31,31,31)" filter="url(#bl2)" transform="rotate(-3.07 210.00 400.90)"/>
<rect x="218.80" y="398.22" width="12.80" height="3.56" rx="1.78" fill="rgb(31,31,31)" filter="url(#bl2)" transform="rotate(-4.19 225.20 400.00)"/>
<rect x="233.60" y="396.92" width="12.80" height="3.56" rx="1.78" fill="rgb(31,31,31)" filter="url(#bl2)" transform="rotate(-5.16 240.00 398.70)"/>
<rect x="249.80" y="395.42" width="12.80" height="3.56" rx="1.78" fill="rgb(31,31,31)" filter="url(#bl2)" transform="rotate(-5.29 256.20 397.20)"/>
<rect x="56.30" y="431.42" width="12.80" height="3.56" rx="1.78" fill="rgb(31,31,31)" filter="url(#bl2)"/>
<rect x="71.40" y="431.42" width="12.80" height="3.56" rx="1.78" fill="rgb(31,31,31)" filter="url(#bl2)"/>
<rect x="86.20" y="431.42" width="12.80" height="3.56" rx="1.78" fill="rgb(31,31,31)" filter="url(#bl2)"/>
<rect x="100.80" y="431.42" width="12.80" height="3.56" rx="1.78" fill="rgb(31,31,31)" filter="url(#bl2)"/>
<rect x="114.70" y="431.43" width="12.80" height="3.54" rx="1.77" fill="rgb(35,35,35)" filter="url(#bl2)"/>
<rect x="129.10" y="431.43" width="12.80" height="3.54" rx="1.77" fill="rgb(35,35,35)" filter="url(#bl2)"/>
<rect x="143.80" y="431.42" width="12.80" height="3.56" rx="1.78" fill="rgb(31,31,31)" filter="url(#bl2)"/>
<rect x="158.60" y="431.42" width="12.80" height="3.56" rx="1.78" fill="rgb(31,31,31)" filter="url(#bl2)"/>
<rect x="173.30" y="431.42" width="12.80" height="3.56" rx="1.78" fill="rgb(31,31,31)" filter="url(#bl2)"/>
<rect x="189.00" y="431.42" width="12.80" height="3.56" rx="1.78" fill="rgb(31,31,31)" filter="url(#bl2)"/>
<rect x="203.60" y="431.62" width="12.80" height="3.15" rx="1.57" fill="rgb(128,128,128)" filter="url(#bl2)" transform="rotate(-1.35 210.00 433.20)"/>
<rect x="218.80" y="431.01" width="12.80" height="2.99" rx="1.49" fill="rgb(166,166,166)" filter="url(#bl2)" transform="rotate(-2.29 225.20 432.50)"/>
<rect x="233.60" y="430.56" width="12.80" height="2.88" rx="1.44" fill="rgb(192,192,192)" filter="url(#bl2)" transform="rotate(-2.03 240.00 432.00)"/>
<rect x="249.80" y="429.99" width="12.80" height="2.83" rx="1.41" fill="rgb(205,205,205)" filter="url(#bl2)" transform="rotate(-2.12 256.20 431.40)"/>
<rect x="56.30" y="467.42" width="12.80" height="3.56" rx="1.78" fill="rgb(31,31,31)" filter="url(#bl2)" transform="rotate(-4.92 62.70 469.20)"/>
<rect x="71.40" y="466.12" width="12.80" height="3.56" rx="1.78" fill="rgb(31,31,31)" filter="url(#bl2)" transform="rotate(-4.78 77.80 467.90)"/>
<rect x="86.20" y="464.93" width="12.80" height="3.54" rx="1.77" fill="rgb(35,35,35)" filter="url(#bl2)" transform="rotate(-3.7 92.60 466.70)"/>
<rect x="100.80" y="464.23" width="12.80" height="3.54" rx="1.77" fill="rgb(35,35,35)" filter="url(#bl2)" transform="rotate(-2.61 107.20 466.00)"/>
<rect x="114.70" y="463.63" width="12.80" height="3.54" rx="1.77" fill="rgb(35,35,35)" filter="url(#bl2)" transform="rotate(-2.43 121.10 465.40)"/>
<rect x="129.10" y="463.03" width="12.80" height="3.54" rx="1.77" fill="rgb(35,35,35)" filter="url(#bl2)" transform="rotate(-2.16 135.50 464.80)"/>
<rect x="143.80" y="462.53" width="12.80" height="3.54" rx="1.77" fill="rgb(35,35,35)" filter="url(#bl2)" transform="rotate(-1.17 150.20 464.30)"/>
<rect x="158.60" y="462.53" width="12.80" height="3.35" rx="1.67" fill="rgb(80,80,80)" filter="url(#bl2)" transform="rotate(-2.52 165.00 464.20)"/>
<rect x="173.30" y="461.35" width="12.80" height="3.29" rx="1.65" fill="rgb(93,93,93)" filter="url(#bl2)" transform="rotate(-3.39 179.70 463.00)"/>
<rect x="189.00" y="460.64" width="12.80" height="3.51" rx="1.75" fill="rgb(42,42,42)" filter="url(#bl2)" transform="rotate(-3.21 195.40 462.40)"/>
<rect x="203.60" y="459.67" width="12.80" height="3.26" rx="1.63" fill="rgb(102,102,102)" filter="url(#bl2)" transform="rotate(-4.22 210.00 461.30)"/>
<rect x="218.80" y="458.57" width="12.80" height="3.26" rx="1.63" fill="rgb(102,102,102)" filter="url(#bl2)" transform="rotate(-5.14 225.20 460.20)"/>
<rect x="233.60" y="456.91" width="12.80" height="3.38" rx="1.69" fill="rgb(72,72,72)" filter="url(#bl2)" transform="rotate(-6.08 240.00 458.60)"/>
<rect x="249.80" y="455.37" width="12.80" height="3.06" rx="1.53" fill="rgb(149,149,149)" filter="url(#bl2)" transform="rotate(-5.99 256.20 456.90)"/>
<rect x="56.30" y="495.51" width="12.80" height="2.98" rx="1.49" fill="rgb(80,80,80)" filter="url(#bl2)"/>
<rect x="71.40" y="495.55" width="12.80" height="2.90" rx="1.45" fill="rgb(102,102,102)" filter="url(#bl2)"/>
<rect x="86.20" y="495.51" width="12.80" height="2.98" rx="1.49" fill="rgb(80,80,80)" filter="url(#bl2)"/>
<rect x="100.80" y="495.51" width="12.80" height="2.98" rx="1.49" fill="rgb(80,80,80)" filter="url(#bl2)"/>
<rect x="114.70" y="495.55" width="12.80" height="2.90" rx="1.45" fill="rgb(102,102,102)" filter="url(#bl2)"/>
<rect x="129.10" y="495.58" width="12.80" height="2.85" rx="1.42" fill="rgb(115,115,115)" filter="url(#bl2)"/>
<rect x="143.80" y="495.61" width="12.80" height="2.78" rx="1.39" fill="rgb(132,132,132)" filter="url(#bl2)" transform="rotate(-2.52 150.20 497.00)"/>
<rect x="158.60" y="494.14" width="12.80" height="3.12" rx="1.56" fill="rgb(42,42,42)" filter="url(#bl2)" transform="rotate(-3.49 165.00 495.70)"/>
<rect x="173.30" y="493.63" width="12.80" height="3.14" rx="1.57" fill="rgb(35,35,35)" filter="url(#bl2)" transform="rotate(-1.7 179.70 495.20)"/>
<rect x="189.00" y="493.23" width="12.80" height="3.14" rx="1.57" fill="rgb(35,35,35)" filter="url(#bl2)" transform="rotate(-1.13 195.40 494.80)"/>
<rect x="203.60" y="493.03" width="12.80" height="3.14" rx="1.57" fill="rgb(35,35,35)" filter="url(#bl2)" transform="rotate(-1.35 210.00 494.60)"/>
<rect x="218.80" y="492.53" width="12.80" height="3.14" rx="1.57" fill="rgb(35,35,35)" filter="url(#bl2)" transform="rotate(-3.43 225.20 494.10)"/>
<rect x="233.60" y="491.23" width="12.80" height="3.14" rx="1.57" fill="rgb(35,35,35)" filter="url(#bl2)" transform="rotate(-6.08 240.00 492.80)"/>
<rect x="249.80" y="489.22" width="12.80" height="3.16" rx="1.58" fill="rgb(31,31,31)" filter="url(#bl2)" transform="rotate(-7.04 256.20 490.80)"/>
<rect x="56.30" y="518.33" width="12.80" height="3.14" rx="1.57" fill="rgb(35,35,35)" filter="url(#bl2)" transform="rotate(5.67 62.70 519.90)"/>
<rect x="71.40" y="519.83" width="12.80" height="3.14" rx="1.57" fill="rgb(35,35,35)" filter="url(#bl2)" transform="rotate(4.78 77.80 521.40)"/>
<rect x="86.20" y="520.83" width="12.80" height="3.14" rx="1.57" fill="rgb(35,35,35)" filter="url(#bl2)" transform="rotate(3.31 92.60 522.40)"/>
<rect x="100.80" y="521.53" width="12.80" height="3.14" rx="1.57" fill="rgb(35,35,35)" filter="url(#bl2)" transform="rotate(3.41 107.20 523.10)"/>
<rect x="114.70" y="522.56" width="12.80" height="3.09" rx="1.54" fill="rgb(50,50,50)" filter="url(#bl2)" transform="rotate(2.83 121.10 524.10)"/>
<rect x="129.10" y="523.01" width="12.80" height="2.98" rx="1.49" fill="rgb(80,80,80)" filter="url(#bl2)" transform="rotate(0.79 135.50 524.50)"/>
<rect x="143.80" y="523.01" width="12.80" height="2.98" rx="1.49" fill="rgb(80,80,80)" filter="url(#bl2)" transform="rotate(-0.19 150.20 524.50)"/>
<rect x="158.60" y="522.91" width="12.80" height="2.98" rx="1.49" fill="rgb(80,80,80)" filter="url(#bl2)" transform="rotate(0.78 165.00 524.40)"/>
<rect x="173.30" y="523.44" width="12.80" height="2.91" rx="1.46" fill="rgb(97,97,97)" filter="url(#bl2)" transform="rotate(1.32 179.70 524.90)"/>
<rect x="189.00" y="523.59" width="12.80" height="3.02" rx="1.51" fill="rgb(67,67,67)" filter="url(#bl2)" transform="rotate(0.38 195.40 525.10)"/>
<rect x="203.60" y="523.62" width="12.80" height="2.96" rx="1.48" fill="rgb(84,84,84)" filter="url(#bl2)" transform="rotate(-0.38 210.00 525.10)"/>
<rect x="218.80" y="523.36" width="12.80" height="3.09" rx="1.54" fill="rgb(50,50,50)" filter="url(#bl2)" transform="rotate(-1.34 225.20 524.90)"/>
<rect x="233.60" y="522.86" width="12.80" height="3.09" rx="1.54" fill="rgb(50,50,50)" filter="url(#bl2)" transform="rotate(-2.03 240.00 524.40)"/>
<rect x="249.80" y="522.23" width="12.80" height="3.14" rx="1.57" fill="rgb(35,35,35)" filter="url(#bl2)" transform="rotate(-2.12 256.20 523.80)"/>
<rect x="56.30" y="548.16" width="12.80" height="3.47" rx="1.74" fill="rgb(50,50,50)" filter="url(#bl2)" transform="rotate(1.52 62.70 549.90)"/>
<rect x="71.40" y="548.56" width="12.80" height="3.47" rx="1.74" fill="rgb(50,50,50)" filter="url(#bl2)" transform="rotate(2.49 77.80 550.30)"/>
<rect x="86.20" y="549.50" width="12.80" height="3.40" rx="1.70" fill="rgb(67,67,67)" filter="url(#bl2)" transform="rotate(2.53 92.60 551.20)"/>
<rect x="100.80" y="549.83" width="12.80" height="3.54" rx="1.77" fill="rgb(35,35,35)" filter="url(#bl2)" transform="rotate(1.61 107.20 551.60)"/>
<rect x="114.70" y="550.23" width="12.80" height="3.54" rx="1.77" fill="rgb(35,35,35)" filter="url(#bl2)" transform="rotate(1.82 121.10 552.00)"/>
<rect x="129.10" y="550.73" width="12.80" height="3.54" rx="1.77" fill="rgb(35,35,35)" filter="url(#bl2)" transform="rotate(2.16 135.50 552.50)"/>
<rect x="143.80" y="551.33" width="12.80" height="3.54" rx="1.77" fill="rgb(35,35,35)" filter="url(#bl2)" transform="rotate(2.72 150.20 553.10)"/>
<rect x="158.60" y="552.13" width="12.80" height="3.54" rx="1.77" fill="rgb(35,35,35)" filter="url(#bl2)" transform="rotate(1.55 165.00 553.90)"/>
<rect x="173.30" y="552.13" width="12.80" height="3.54" rx="1.77" fill="rgb(35,35,35)" filter="url(#bl2)" transform="rotate(0.75 179.70 553.90)"/>
<rect x="189.00" y="552.53" width="12.80" height="3.54" rx="1.77" fill="rgb(35,35,35)" filter="url(#bl2)"/>
<rect x="203.60" y="552.13" width="12.80" height="3.54" rx="1.77" fill="rgb(35,35,35)" filter="url(#bl2)" transform="rotate(-2.11 210.00 553.90)"/>
<rect x="218.80" y="551.43" width="12.80" height="3.54" rx="1.77" fill="rgb(35,35,35)" filter="url(#bl2)" transform="rotate(-3.43 225.20 553.20)"/>
<rect x="233.60" y="550.33" width="12.80" height="3.54" rx="1.77" fill="rgb(35,35,35)" filter="url(#bl2)" transform="rotate(-5.34 240.00 552.10)"/>
<rect x="249.80" y="548.53" width="12.80" height="3.54" rx="1.77" fill="rgb(35,35,35)" filter="url(#bl2)" transform="rotate(-6.34 256.20 550.30)"/>
<rect x="56.30" y="578.32" width="12.80" height="3.75" rx="1.88" fill="rgb(31,31,31)" filter="url(#bl2)" transform="rotate(1.52 62.70 580.20)"/>
<rect x="71.40" y="578.72" width="12.80" height="3.75" rx="1.88" fill="rgb(31,31,31)" filter="url(#bl2)" transform="rotate(1.53 77.80 580.60)"/>
<rect x="86.20" y="579.12" width="12.80" height="3.75" rx="1.88" fill="rgb(31,31,31)" filter="url(#bl2)" transform="rotate(0.78 92.60 581.00)"/>
<rect x="100.80" y="579.12" width="12.80" height="3.75" rx="1.88" fill="rgb(31,31,31)" filter="url(#bl2)" transform="rotate(-0.8 107.20 581.00)"/>
<rect x="114.70" y="578.72" width="12.80" height="3.75" rx="1.88" fill="rgb(31,31,31)" filter="url(#bl2)" transform="rotate(-1.62 121.10 580.60)"/>
<rect x="129.10" y="578.32" width="12.80" height="3.75" rx="1.88" fill="rgb(31,31,31)" filter="url(#bl2)" transform="rotate(-2.16 135.50 580.20)"/>
<rect x="143.80" y="577.62" width="12.80" height="3.75" rx="1.88" fill="rgb(31,31,31)" filter="url(#bl2)" transform="rotate(-1.75 150.20 579.50)"/>
<rect x="158.60" y="577.42" width="12.80" height="3.75" rx="1.88" fill="rgb(31,31,31)" filter="url(#bl2)" transform="rotate(-0.39 165.00 579.30)"/>
<rect x="173.30" y="577.42" width="12.80" height="3.75" rx="1.88" fill="rgb(31,31,31)" filter="url(#bl2)" transform="rotate(-0.38 179.70 579.30)"/>
<rect x="189.00" y="577.22" width="12.80" height="3.75" rx="1.88" fill="rgb(31,31,31)" filter="url(#bl2)" transform="rotate(-1.32 195.40 579.10)"/>
<rect x="203.60" y="576.72" width="12.80" height="3.75" rx="1.88" fill="rgb(31,31,31)" filter="url(#bl2)" transform="rotate(-2.11 210.00 578.60)"/>
<rect x="218.80" y="576.12" width="12.80" height="3.75" rx="1.88" fill="rgb(31,31,31)" filter="url(#bl2)" transform="rotate(-3.24 225.20 578.00)"/>
<rect x="233.60" y="575.07" width="12.80" height="3.67" rx="1.83" fill="rgb(50,50,50)" filter="url(#bl2)" transform="rotate(-4.98 240.00 576.90)"/>
<rect x="249.80" y="573.61" width="12.80" height="3.37" rx="1.69" fill="rgb(117,117,117)" filter="url(#bl2)" transform="rotate(-5.64 256.20 575.30)"/>
<text x="294.30" y="331.00" font-size="9.0" text-anchor="start" fill="#111" font-weight="bold" textLength="12.30" lengthAdjust="spacingAndGlyphs" >(ii)</text>
<text x="354.4" y="337.7" font-size="10.2" fill="#111" textLength="67.3" lengthAdjust="spacingAndGlyphs">HT (<tspan font-style="italic">KMT2D</tspan><tspan font-size="6.6" dy="-3.6">+/+</tspan><tspan dy="3.6">)</tspan></text>
<line x1="345.20" y1="345.30" x2="345.20" y2="429.10" stroke="#111" stroke-width="1.3" />
<line x1="342.20" y1="346.80" x2="345.20" y2="346.80" stroke="#111" stroke-width="1.1" />
<text x="338.80" y="349.60" font-size="8.0" text-anchor="end" fill="#222" stroke="#222" stroke-width="0.12" >2</text>
<line x1="342.20" y1="374.10" x2="345.20" y2="374.10" stroke="#111" stroke-width="1.1" />
<text x="338.80" y="376.90" font-size="8.0" text-anchor="end" fill="#222" stroke="#222" stroke-width="0.12" >1</text>
<line x1="342.20" y1="401.40" x2="345.20" y2="401.40" stroke="#111" stroke-width="1.1" />
<text x="338.80" y="404.20" font-size="8.0" text-anchor="end" fill="#222" stroke="#222" stroke-width="0.12" >0</text>
<line x1="342.20" y1="428.70" x2="345.20" y2="428.70" stroke="#111" stroke-width="1.1" />
<text x="338.80" y="431.50" font-size="8.0" text-anchor="end" fill="#222" stroke="#222" stroke-width="0.12" >-1</text>
<line x1="344.60" y1="428.50" x2="430.50" y2="428.50" stroke="#111" stroke-width="1.3" />
<line x1="345.20" y1="428.50" x2="345.20" y2="431.10" stroke="#111" stroke-width="1.1" />
<text x="344.20" y="441.50" font-size="7.7" text-anchor="middle" fill="#222" stroke="#222" stroke-width="0.12" >-10</text>
<line x1="361.50" y1="428.50" x2="361.50" y2="431.10" stroke="#111" stroke-width="1.1" />
<text x="360.50" y="441.50" font-size="7.7" text-anchor="middle" fill="#222" stroke="#222" stroke-width="0.12" >-9</text>
<line x1="377.80" y1="428.50" x2="377.80" y2="431.10" stroke="#111" stroke-width="1.1" />
<text x="376.80" y="441.50" font-size="7.7" text-anchor="middle" fill="#222" stroke="#222" stroke-width="0.12" >-8</text>
<line x1="394.10" y1="428.50" x2="394.10" y2="431.10" stroke="#111" stroke-width="1.1" />
<text x="393.10" y="441.50" font-size="7.7" text-anchor="middle" fill="#222" stroke="#222" stroke-width="0.12" >-7</text>
<line x1="410.40" y1="428.50" x2="410.40" y2="431.10" stroke="#111" stroke-width="1.1" />
<text x="409.40" y="441.50" font-size="7.7" text-anchor="middle" fill="#222" stroke="#222" stroke-width="0.12" >-6</text>
<line x1="426.70" y1="428.50" x2="426.70" y2="431.10" stroke="#111" stroke-width="1.1" />
<text x="425.70" y="441.50" font-size="7.7" text-anchor="middle" fill="#222" stroke="#222" stroke-width="0.12" >-5</text>
<text x="351.00" y="455.90" font-size="10.8" text-anchor="start" fill="#222" stroke="#222" stroke-width="0.12" textLength="74.50" lengthAdjust="spacingAndGlyphs" >Log [KDM5-inh1] (M)</text>
<text x="315.00" y="386.30" font-size="10.8" text-anchor="middle" fill="#222" stroke="#222" stroke-width="0.12" textLength="54.50" lengthAdjust="spacingAndGlyphs" transform="rotate(-90 315.00 386.30)" >H3 methylation</text>
<text x="325.70" y="386.30" font-size="10.8" text-anchor="middle" fill="#222" stroke="#222" stroke-width="0.12" textLength="95.00" lengthAdjust="spacingAndGlyphs" transform="rotate(-90 325.70 386.30)" >(log2 relative to H3/DMSO)</text>
<text x="416.00" y="347.00" font-size="7.6" text-anchor="start" fill="#c8102e" stroke="#c8102e" stroke-width="0.12" textLength="12.50" lengthAdjust="spacingAndGlyphs" >8nM</text>
<path d="M345.20 402.22 L346.22 402.22 L347.24 402.22 L348.26 402.22 L349.27 402.22 L350.29 402.22 L351.31 402.22 L352.33 402.22 L353.35 402.22 L354.37 402.22 L355.39 402.22 L356.41 402.22 L357.43 402.22 L358.44 402.22 L359.46 402.22 L360.48 402.22 L361.50 402.22 L362.52 402.22 L363.54 402.22 L364.56 402.22 L365.57 402.22 L366.59 402.22 L367.61 402.22 L368.63 402.22 L369.65 402.22 L370.67 402.22 L371.69 402.22 L372.71 402.22 L373.72 402.22 L374.74 402.22 L375.76 402.22 L376.78 402.22 L377.80 402.22 L378.82 402.22 L379.84 402.22 L380.86 402.22 L381.88 402.22 L382.89 402.22 L383.91 402.22 L384.93 402.22 L385.95 402.22 L386.97 402.22 L387.99 402.22 L389.01 402.22 L390.02 402.22 L391.04 402.22 L392.06 402.22 L393.08 402.22 L394.10 402.22 L395.12 402.22 L396.14 402.22 L397.16 402.22 L398.18 402.22 L399.19 402.22 L400.21 402.22 L401.23 402.22 L402.25 402.22 L403.27 402.22 L404.29 402.22 L405.31 402.22 L406.32 402.22 L407.34 402.22 L408.36 402.22 L409.38 402.22 L410.40 402.22 L411.42 402.22 L412.44 402.22 L413.46 402.22 L414.48 402.22 L415.49 402.22 L416.51 402.22 L417.53 402.22 L418.55 402.22 L419.57 402.22 L420.59 402.22 L421.61 402.22 L422.62 402.22 L423.64 402.22 L424.66 402.22 L425.68 402.22 L426.70 402.22" fill="none" stroke="#1d4f91" stroke-width="1.44"/>
<path d="M345.20 404.68 L346.22 404.68 L347.24 404.68 L348.26 404.68 L349.27 404.68 L350.29 404.68 L351.31 404.68 L352.33 404.68 L353.35 404.68 L354.37 404.68 L355.39 404.68 L356.41 404.68 L357.43 404.68 L358.44 404.68 L359.46 404.68 L360.48 404.68 L361.50 404.68 L362.52 404.68 L363.54 404.68 L364.56 404.68 L365.57 404.68 L366.59 404.68 L367.61 404.68 L368.63 404.68 L369.65 404.68 L370.67 404.68 L371.69 404.68 L372.71 404.68 L373.72 404.68 L374.74 404.68 L375.76 404.68 L376.78 404.68 L377.80 404.68 L378.82 404.68 L379.84 404.68 L380.86 404.68 L381.88 404.68 L382.89 404.68 L383.91 404.68 L384.93 404.68 L385.95 404.68 L386.97 404.68 L387.99 404.68 L389.01 404.68 L390.02 404.68 L391.04 404.68 L392.06 404.68 L393.08 404.68 L394.10 404.68 L395.12 404.68 L396.14 404.68 L397.16 404.68 L398.18 404.68 L399.19 404.68 L400.21 404.68 L401.23 404.68 L402.25 404.68 L403.27 404.68 L404.29 404.68 L405.31 404.68 L406.32 404.68 L407.34 404.68 L408.36 404.68 L409.38 404.68 L410.40 404.68 L411.42 404.68 L412.44 404.68 L413.46 404.68 L414.48 404.68 L415.49 404.68 L416.51 404.68 L417.53 404.68 L418.55 404.68 L419.57 404.68 L420.59 404.68 L421.61 404.68 L422.62 404.68 L423.64 404.68 L424.66 404.68 L425.68 404.68 L426.70 404.68" fill="none" stroke="#39b54a" stroke-width="1.44"/>
<path d="M345.20 401.65 L346.22 401.88 L347.24 402.29 L348.26 402.92 L349.27 403.72 L350.29 404.52 L351.31 405.15 L352.33 405.56 L353.35 405.79 L354.37 405.92 L355.39 405.98 L356.41 406.01 L357.43 406.03 L358.44 406.03 L359.46 406.04 L360.48 406.04 L361.50 406.04 L362.52 406.04 L363.54 406.04 L364.56 406.04 L365.57 406.04 L366.59 406.04 L367.61 406.04 L368.63 406.04 L369.65 406.04 L370.67 406.04 L371.69 406.04 L372.71 406.04 L373.72 406.04 L374.74 406.04 L375.76 406.04 L376.78 406.04 L377.80 406.04 L378.82 406.04 L379.84 406.04 L380.86 406.04 L381.88 406.04 L382.89 406.04 L383.91 406.04 L384.93 406.04 L385.95 406.04 L386.97 406.04 L387.99 406.04 L389.01 406.04 L390.02 406.04 L391.04 406.04 L392.06 406.04 L393.08 406.04 L394.10 406.04 L395.12 406.04 L396.14 406.04 L397.16 406.04 L398.18 406.04 L399.19 406.04 L400.21 406.04 L401.23 406.04 L402.25 406.04 L403.27 406.04 L404.29 406.04 L405.31 406.04 L406.32 406.04 L407.34 406.04 L408.36 406.04 L409.38 406.04 L410.40 406.04 L411.42 406.04 L412.44 406.04 L413.46 406.04 L414.48 406.04 L415.49 406.04 L416.51 406.04 L417.53 406.04 L418.55 406.04 L419.57 406.04 L420.59 406.04 L421.61 406.04 L422.62 406.04 L423.64 406.04 L424.66 406.04 L425.68 406.04 L426.70 406.04" fill="none" stroke="#f7941d" stroke-width="1.44"/>
<path d="M345.20 401.67 L346.22 401.67 L347.24 401.67 L348.26 401.67 L349.27 401.67 L350.29 401.67 L351.31 401.67 L352.33 401.67 L353.35 401.67 L354.37 401.67 L355.39 401.67 L356.41 401.67 L357.43 401.67 L358.44 401.67 L359.46 401.67 L360.48 401.67 L361.50 401.67 L362.52 401.67 L363.54 401.67 L364.56 401.67 L365.57 401.67 L366.59 401.67 L367.61 401.67 L368.63 401.67 L369.65 401.67 L370.67 401.67 L371.69 401.67 L372.71 401.68 L373.72 401.68 L374.74 401.68 L375.76 401.69 L376.78 401.72 L377.80 401.76 L378.82 401.85 L379.84 402.02 L380.86 402.33 L381.88 402.85 L382.89 403.61 L383.91 404.48 L384.93 405.27 L385.95 405.85 L386.97 406.20 L387.99 406.39 L389.01 406.49 L390.02 406.54 L391.04 406.56 L392.06 406.58 L393.08 406.58 L394.10 406.58 L395.12 406.59 L396.14 406.59 L397.16 406.59 L398.18 406.59 L399.19 406.59 L400.21 406.59 L401.23 406.59 L402.25 406.59 L403.27 406.59 L404.29 406.59 L405.31 406.59 L406.32 406.59 L407.34 406.59 L408.36 406.59 L409.38 406.59 L410.40 406.59 L411.42 406.59 L412.44 406.59 L413.46 406.59 L414.48 406.59 L415.49 406.59 L416.51 406.59 L417.53 406.59 L418.55 406.59 L419.57 406.59 L420.59 406.59 L421.61 406.59 L422.62 406.59 L423.64 406.59 L424.66 406.59 L425.68 406.59 L426.70 406.59" fill="none" stroke="#29abe2" stroke-width="1.56"/>
<path d="M345.20 402.76 L346.22 402.76 L347.24 402.76 L348.26 402.76 L349.27 402.76 L350.29 402.76 L351.31 402.76 L352.33 402.76 L353.35 402.76 L354.37 402.76 L355.39 402.76 L356.41 402.76 L357.43 402.76 L358.44 402.76 L359.46 402.76 L360.48 402.76 L361.50 402.76 L362.52 402.76 L363.54 402.76 L364.56 402.76 L365.57 402.76 L366.59 402.76 L367.61 402.76 L368.63 402.76 L369.65 402.76 L370.67 402.76 L371.69 402.76 L372.71 402.76 L373.72 402.76 L374.74 402.76 L375.76 402.76 L376.78 402.76 L377.80 402.76 L378.82 402.76 L379.84 402.76 L380.86 402.76 L381.88 402.76 L382.89 402.76 L383.91 402.76 L384.93 402.76 L385.95 402.76 L386.97 402.76 L387.99 402.76 L389.01 402.76 L390.02 402.76 L391.04 402.76 L392.06 402.76 L393.08 402.76 L394.10 402.76 L395.12 402.76 L396.14 402.76 L397.16 402.76 L398.18 402.76 L399.19 402.76 L400.21 402.76 L401.23 402.76 L402.25 402.76 L403.27 402.76 L404.29 402.76 L405.31 402.76 L406.32 402.76 L407.34 402.76 L408.36 402.76 L409.38 402.76 L410.40 402.76 L411.42 402.76 L412.44 402.76 L413.46 402.76 L414.48 402.76 L415.49 402.76 L416.51 402.76 L417.53 402.76 L418.55 402.76 L419.57 402.76 L420.59 402.76 L421.61 402.76 L422.62 402.76 L423.64 402.76 L424.66 402.76 L425.68 402.76 L426.70 402.76" fill="none" stroke="#662d91" stroke-width="1.44"/>
<path d="M345.20 400.31 L346.22 399.90 L347.24 399.51 L348.26 399.13 L349.27 398.74 L350.29 398.34 L351.31 397.91 L352.33 397.45 L353.35 396.95 L354.37 396.39 L355.39 395.80 L356.41 395.16 L357.43 394.48 L358.44 393.77 L359.46 393.03 L360.48 392.27 L361.50 391.48 L362.52 390.67 L363.54 389.84 L364.56 389.00 L365.57 388.16 L366.59 387.31 L367.61 386.45 L368.63 385.57 L369.65 384.63 L370.67 383.65 L371.69 382.62 L372.71 381.57 L373.72 380.49 L374.74 379.41 L375.76 378.33 L376.78 377.26 L377.80 376.21 L378.82 375.20 L379.84 374.22 L380.86 373.29 L381.88 372.43 L382.89 371.64 L383.91 370.86 L384.93 370.11 L385.95 369.37 L386.97 368.64 L387.99 367.94 L389.01 367.25 L390.02 366.59 L391.04 365.95 L392.06 365.33 L393.08 364.74 L394.10 364.17 L395.12 363.64 L396.14 363.13 L397.16 362.65 L398.18 362.20 L399.19 361.75 L400.21 361.32 L401.23 360.89 L402.25 360.49 L403.27 360.09 L404.29 359.71 L405.31 359.35 L406.32 359.00 L407.34 358.67 L408.36 358.37 L409.38 358.08 L410.40 357.82 L411.42 357.58 L412.44 357.36 L413.46 357.17 L414.48 356.98 L415.49 356.81 L416.51 356.65 L417.53 356.50 L418.55 356.36 L419.57 356.22 L420.59 356.08 L421.61 355.95 L422.62 355.82 L423.64 355.69 L424.66 355.55 L425.68 355.41 L426.70 355.26" fill="none" stroke="#c8102e" stroke-width="1.56"/>
<line x1="353.19" y1="400.03" x2="353.19" y2="402.76" stroke="#1d4f91" stroke-width="1.0" />
<line x1="351.59" y1="400.03" x2="354.79" y2="400.03" stroke="#1d4f91" stroke-width="1.0" />
<line x1="351.59" y1="402.76" x2="354.79" y2="402.76" stroke="#1d4f91" stroke-width="1.0" />
<path d="M353.19 403.68L355.28 399.88L351.10 399.88Z" fill="#1d4f91"/>
<line x1="382.53" y1="387.75" x2="382.53" y2="402.76" stroke="#1d4f91" stroke-width="1.0" />
<line x1="380.93" y1="387.75" x2="384.13" y2="387.75" stroke="#1d4f91" stroke-width="1.0" />
<line x1="380.93" y1="402.76" x2="384.13" y2="402.76" stroke="#1d4f91" stroke-width="1.0" />
<path d="M382.53 402.31L384.62 398.51L380.44 398.51Z" fill="#1d4f91"/>
<line x1="397.20" y1="397.30" x2="397.20" y2="404.13" stroke="#1d4f91" stroke-width="1.0" />
<line x1="395.60" y1="397.30" x2="398.80" y2="397.30" stroke="#1d4f91" stroke-width="1.0" />
<line x1="395.60" y1="404.13" x2="398.80" y2="404.13" stroke="#1d4f91" stroke-width="1.0" />
<path d="M397.20 403.68L399.29 399.88L395.11 399.88Z" fill="#1d4f91"/>
<line x1="412.03" y1="395.94" x2="412.03" y2="404.13" stroke="#1d4f91" stroke-width="1.0" />
<line x1="410.43" y1="395.94" x2="413.63" y2="395.94" stroke="#1d4f91" stroke-width="1.0" />
<line x1="410.43" y1="404.13" x2="413.63" y2="404.13" stroke="#1d4f91" stroke-width="1.0" />
<path d="M412.03 403.68L414.12 399.88L409.94 399.88Z" fill="#1d4f91"/>
<line x1="426.70" y1="401.40" x2="426.70" y2="404.13" stroke="#1d4f91" stroke-width="1.0" />
<line x1="425.10" y1="401.40" x2="428.30" y2="401.40" stroke="#1d4f91" stroke-width="1.0" />
<line x1="425.10" y1="404.13" x2="428.30" y2="404.13" stroke="#1d4f91" stroke-width="1.0" />
<path d="M426.70 405.04L428.79 401.25L424.61 401.25Z" fill="#1d4f91"/>
<line x1="353.19" y1="402.76" x2="353.19" y2="405.50" stroke="#39b54a" stroke-width="1.0" />
<line x1="351.59" y1="402.76" x2="354.79" y2="402.76" stroke="#39b54a" stroke-width="1.0" />
<line x1="351.59" y1="405.50" x2="354.79" y2="405.50" stroke="#39b54a" stroke-width="1.0" />
<path d="M353.19 401.85L355.28 405.65L351.10 405.65Z" fill="#39b54a"/>
<line x1="382.53" y1="402.76" x2="382.53" y2="405.50" stroke="#39b54a" stroke-width="1.0" />
<line x1="380.93" y1="402.76" x2="384.13" y2="402.76" stroke="#39b54a" stroke-width="1.0" />
<line x1="380.93" y1="405.50" x2="384.13" y2="405.50" stroke="#39b54a" stroke-width="1.0" />
<path d="M382.53 401.85L384.62 405.65L380.44 405.65Z" fill="#39b54a"/>
<line x1="397.20" y1="405.50" x2="397.20" y2="410.95" stroke="#39b54a" stroke-width="1.0" />
<line x1="395.60" y1="405.50" x2="398.80" y2="405.50" stroke="#39b54a" stroke-width="1.0" />
<line x1="395.60" y1="410.95" x2="398.80" y2="410.95" stroke="#39b54a" stroke-width="1.0" />
<path d="M397.20 405.94L399.29 409.74L395.11 409.74Z" fill="#39b54a"/>
<line x1="412.03" y1="408.22" x2="412.03" y2="413.69" stroke="#39b54a" stroke-width="1.0" />
<line x1="410.43" y1="408.22" x2="413.63" y2="408.22" stroke="#39b54a" stroke-width="1.0" />
<line x1="410.43" y1="413.69" x2="413.63" y2="413.69" stroke="#39b54a" stroke-width="1.0" />
<path d="M412.03 408.68L414.12 412.47L409.94 412.47Z" fill="#39b54a"/>
<line x1="426.70" y1="389.11" x2="426.70" y2="404.13" stroke="#39b54a" stroke-width="1.0" />
<line x1="425.10" y1="389.11" x2="428.30" y2="389.11" stroke="#39b54a" stroke-width="1.0" />
<line x1="425.10" y1="404.13" x2="428.30" y2="404.13" stroke="#39b54a" stroke-width="1.0" />
<path d="M426.70 399.12L428.79 402.92L424.61 402.92Z" fill="#39b54a"/>
<line x1="353.19" y1="403.31" x2="353.19" y2="406.04" stroke="#f7941d" stroke-width="1.0" />
<line x1="351.59" y1="403.31" x2="354.79" y2="403.31" stroke="#f7941d" stroke-width="1.0" />
<line x1="351.59" y1="406.04" x2="354.79" y2="406.04" stroke="#f7941d" stroke-width="1.0" />
<path d="M353.19 402.40L355.28 406.20L351.10 406.20Z" fill="#f7941d"/>
<line x1="367.69" y1="404.95" x2="367.69" y2="407.68" stroke="#f7941d" stroke-width="1.0" />
<line x1="366.09" y1="404.95" x2="369.29" y2="404.95" stroke="#f7941d" stroke-width="1.0" />
<line x1="366.09" y1="407.68" x2="369.29" y2="407.68" stroke="#f7941d" stroke-width="1.0" />
<path d="M367.69 404.03L369.78 407.83L365.60 407.83Z" fill="#f7941d"/>
<line x1="382.53" y1="404.95" x2="382.53" y2="407.68" stroke="#f7941d" stroke-width="1.0" />
<line x1="380.93" y1="404.95" x2="384.13" y2="404.95" stroke="#f7941d" stroke-width="1.0" />
<line x1="380.93" y1="407.68" x2="384.13" y2="407.68" stroke="#f7941d" stroke-width="1.0" />
<path d="M382.53 404.03L384.62 407.83L380.44 407.83Z" fill="#f7941d"/>
<line x1="426.70" y1="390.48" x2="426.70" y2="401.40" stroke="#f7941d" stroke-width="1.0" />
<line x1="425.10" y1="390.48" x2="428.30" y2="390.48" stroke="#f7941d" stroke-width="1.0" />
<line x1="425.10" y1="401.40" x2="428.30" y2="401.40" stroke="#f7941d" stroke-width="1.0" />
<path d="M426.70 396.39L428.79 400.19L424.61 400.19Z" fill="#f7941d"/>
<line x1="353.19" y1="393.21" x2="353.19" y2="401.40" stroke="#29abe2" stroke-width="1.0" />
<line x1="351.59" y1="393.21" x2="354.79" y2="393.21" stroke="#29abe2" stroke-width="1.0" />
<line x1="351.59" y1="401.40" x2="354.79" y2="401.40" stroke="#29abe2" stroke-width="1.0" />
<rect x="351.29" y="395.40" width="3.80" height="3.80" fill="#29abe2"/>
<line x1="367.69" y1="400.03" x2="367.69" y2="402.76" stroke="#29abe2" stroke-width="1.0" />
<line x1="366.09" y1="400.03" x2="369.29" y2="400.03" stroke="#29abe2" stroke-width="1.0" />
<line x1="366.09" y1="402.76" x2="369.29" y2="402.76" stroke="#29abe2" stroke-width="1.0" />
<rect x="365.79" y="399.50" width="3.80" height="3.80" fill="#29abe2"/>
<line x1="382.53" y1="397.30" x2="382.53" y2="402.76" stroke="#29abe2" stroke-width="1.0" />
<line x1="380.93" y1="397.30" x2="384.13" y2="397.30" stroke="#29abe2" stroke-width="1.0" />
<line x1="380.93" y1="402.76" x2="384.13" y2="402.76" stroke="#29abe2" stroke-width="1.0" />
<rect x="380.63" y="398.13" width="3.80" height="3.80" fill="#29abe2"/>
<line x1="397.20" y1="406.04" x2="397.20" y2="411.50" stroke="#29abe2" stroke-width="1.0" />
<line x1="395.60" y1="406.04" x2="398.80" y2="406.04" stroke="#29abe2" stroke-width="1.0" />
<line x1="395.60" y1="411.50" x2="398.80" y2="411.50" stroke="#29abe2" stroke-width="1.0" />
<rect x="395.30" y="406.87" width="3.80" height="3.80" fill="#29abe2"/>
<line x1="412.03" y1="406.04" x2="412.03" y2="411.50" stroke="#29abe2" stroke-width="1.0" />
<line x1="410.43" y1="406.04" x2="413.63" y2="406.04" stroke="#29abe2" stroke-width="1.0" />
<line x1="410.43" y1="411.50" x2="413.63" y2="411.50" stroke="#29abe2" stroke-width="1.0" />
<rect x="410.13" y="406.87" width="3.80" height="3.80" fill="#29abe2"/>
<line x1="426.70" y1="400.03" x2="426.70" y2="402.76" stroke="#29abe2" stroke-width="1.0" />
<line x1="425.10" y1="400.03" x2="428.30" y2="400.03" stroke="#29abe2" stroke-width="1.0" />
<line x1="425.10" y1="402.76" x2="428.30" y2="402.76" stroke="#29abe2" stroke-width="1.0" />
<rect x="424.80" y="399.50" width="3.80" height="3.80" fill="#29abe2"/>
<circle cx="353.19" cy="409.59" r="1.70" fill="#fff" stroke="#662d91" stroke-width="1"/>
<circle cx="382.53" cy="397.30" r="1.70" fill="#fff" stroke="#662d91" stroke-width="1"/>
<circle cx="426.70" cy="400.03" r="1.70" fill="#fff" stroke="#662d91" stroke-width="1"/>
<circle cx="345.20" cy="401.40" r="1.90" fill="#c8102e"/>
<line x1="353.19" y1="387.20" x2="353.19" y2="392.66" stroke="#c8102e" stroke-width="1.0" />
<line x1="351.59" y1="387.20" x2="354.79" y2="387.20" stroke="#c8102e" stroke-width="1.0" />
<line x1="351.59" y1="392.66" x2="354.79" y2="392.66" stroke="#c8102e" stroke-width="1.0" />
<circle cx="353.19" cy="389.93" r="1.90" fill="#c8102e"/>
<line x1="367.69" y1="376.01" x2="367.69" y2="401.67" stroke="#c8102e" stroke-width="1.0" />
<line x1="366.09" y1="376.01" x2="369.29" y2="376.01" stroke="#c8102e" stroke-width="1.0" />
<line x1="366.09" y1="401.67" x2="369.29" y2="401.67" stroke="#c8102e" stroke-width="1.0" />
<circle cx="367.69" cy="388.84" r="1.90" fill="#c8102e"/>
<line x1="382.53" y1="355.54" x2="382.53" y2="388.30" stroke="#c8102e" stroke-width="1.0" />
<line x1="380.93" y1="355.54" x2="384.13" y2="355.54" stroke="#c8102e" stroke-width="1.0" />
<line x1="380.93" y1="388.30" x2="384.13" y2="388.30" stroke="#c8102e" stroke-width="1.0" />
<circle cx="382.53" cy="371.92" r="1.90" fill="#c8102e"/>
<line x1="397.20" y1="351.17" x2="397.20" y2="373.01" stroke="#c8102e" stroke-width="1.0" />
<line x1="395.60" y1="351.17" x2="398.80" y2="351.17" stroke="#c8102e" stroke-width="1.0" />
<line x1="395.60" y1="373.01" x2="398.80" y2="373.01" stroke="#c8102e" stroke-width="1.0" />
<circle cx="397.20" cy="362.09" r="1.90" fill="#c8102e"/>
<line x1="412.03" y1="350.08" x2="412.03" y2="365.36" stroke="#c8102e" stroke-width="1.0" />
<line x1="410.43" y1="350.08" x2="413.63" y2="350.08" stroke="#c8102e" stroke-width="1.0" />
<line x1="410.43" y1="365.36" x2="413.63" y2="365.36" stroke="#c8102e" stroke-width="1.0" />
<circle cx="412.03" cy="357.72" r="1.90" fill="#c8102e"/>
<line x1="426.70" y1="349.80" x2="426.70" y2="359.63" stroke="#c8102e" stroke-width="1.0" />
<line x1="425.10" y1="349.80" x2="428.30" y2="349.80" stroke="#c8102e" stroke-width="1.0" />
<line x1="425.10" y1="359.63" x2="428.30" y2="359.63" stroke="#c8102e" stroke-width="1.0" />
<circle cx="426.70" cy="354.72" r="1.90" fill="#c8102e"/>
<text x="341.3" y="488.0" font-size="10.2" fill="#111" textLength="94.0" lengthAdjust="spacingAndGlyphs">SU-DHL-6 (<tspan font-style="italic">KMT2D</tspan><tspan font-size="6.6" dy="-3.6">-/-</tspan><tspan dy="3.6">)</tspan></text>
<line x1="345.20" y1="496.30" x2="345.20" y2="579.90" stroke="#111" stroke-width="1.3" />
<line x1="342.20" y1="497.80" x2="345.20" y2="497.80" stroke="#111" stroke-width="1.1" />
<text x="338.80" y="500.60" font-size="8.0" text-anchor="end" fill="#222" stroke="#222" stroke-width="0.12" >3</text>
<line x1="342.20" y1="514.10" x2="345.20" y2="514.10" stroke="#111" stroke-width="1.1" />
<text x="338.80" y="516.90" font-size="8.0" text-anchor="end" fill="#222" stroke="#222" stroke-width="0.12" >2</text>
<line x1="342.20" y1="530.40" x2="345.20" y2="530.40" stroke="#111" stroke-width="1.1" />
<text x="338.80" y="533.20" font-size="8.0" text-anchor="end" fill="#222" stroke="#222" stroke-width="0.12" >1</text>
<line x1="342.20" y1="546.70" x2="345.20" y2="546.70" stroke="#111" stroke-width="1.1" />
<text x="338.80" y="549.50" font-size="8.0" text-anchor="end" fill="#222" stroke="#222" stroke-width="0.12" >0</text>
<line x1="342.20" y1="563.00" x2="345.20" y2="563.00" stroke="#111" stroke-width="1.1" />
<text x="338.80" y="565.80" font-size="8.0" text-anchor="end" fill="#222" stroke="#222" stroke-width="0.12" >-1</text>
<line x1="342.20" y1="579.30" x2="345.20" y2="579.30" stroke="#111" stroke-width="1.1" />
<text x="338.80" y="582.10" font-size="8.0" text-anchor="end" fill="#222" stroke="#222" stroke-width="0.12" >-2</text>
<line x1="344.60" y1="579.30" x2="430.50" y2="579.30" stroke="#111" stroke-width="1.3" />
<line x1="345.20" y1="579.30" x2="345.20" y2="581.90" stroke="#111" stroke-width="1.1" />
<text x="344.20" y="592.30" font-size="7.7" text-anchor="middle" fill="#222" stroke="#222" stroke-width="0.12" >-10</text>
<line x1="361.50" y1="579.30" x2="361.50" y2="581.90" stroke="#111" stroke-width="1.1" />
<text x="360.50" y="592.30" font-size="7.7" text-anchor="middle" fill="#222" stroke="#222" stroke-width="0.12" >-9</text>
<line x1="377.80" y1="579.30" x2="377.80" y2="581.90" stroke="#111" stroke-width="1.1" />
<text x="376.80" y="592.30" font-size="7.7" text-anchor="middle" fill="#222" stroke="#222" stroke-width="0.12" >-8</text>
<line x1="394.10" y1="579.30" x2="394.10" y2="581.90" stroke="#111" stroke-width="1.1" />
<text x="393.10" y="592.30" font-size="7.7" text-anchor="middle" fill="#222" stroke="#222" stroke-width="0.12" >-7</text>
<line x1="410.40" y1="579.30" x2="410.40" y2="581.90" stroke="#111" stroke-width="1.1" />
<text x="409.40" y="592.30" font-size="7.7" text-anchor="middle" fill="#222" stroke="#222" stroke-width="0.12" >-6</text>
<line x1="426.70" y1="579.30" x2="426.70" y2="581.90" stroke="#111" stroke-width="1.1" />
<text x="425.70" y="592.30" font-size="7.7" text-anchor="middle" fill="#222" stroke="#222" stroke-width="0.12" >-5</text>
<text x="351.00" y="607.00" font-size="10.8" text-anchor="start" fill="#222" stroke="#222" stroke-width="0.12" textLength="74.50" lengthAdjust="spacingAndGlyphs" >Log [KDM5-inh1] (M)</text>
<text x="315.00" y="537.00" font-size="10.8" text-anchor="middle" fill="#222" stroke="#222" stroke-width="0.12" textLength="54.50" lengthAdjust="spacingAndGlyphs" transform="rotate(-90 315.00 537.00)" >H3 methylation</text>
<text x="325.70" y="537.00" font-size="10.8" text-anchor="middle" fill="#222" stroke="#222" stroke-width="0.12" textLength="95.00" lengthAdjust="spacingAndGlyphs" transform="rotate(-90 325.70 537.00)" >(log2 relative to H3/DMSO)</text>
<text x="413.70" y="508.70" font-size="7.6" text-anchor="start" fill="#c8102e" stroke="#c8102e" stroke-width="0.12" textLength="16.70" lengthAdjust="spacingAndGlyphs" >1.4nM</text>
<line x1="379.43" y1="546.70" x2="429.96" y2="546.70" stroke="#222" stroke-width="1.0" stroke-dasharray="1,1.3"/>
<path d="M345.20 547.03 L346.22 547.03 L347.24 547.03 L348.26 547.03 L349.27 547.03 L350.29 547.03 L351.31 547.03 L352.33 547.03 L353.35 547.03 L354.37 547.03 L355.39 547.03 L356.41 547.03 L357.43 547.03 L358.44 547.03 L359.46 547.03 L360.48 547.03 L361.50 547.03 L362.52 547.03 L363.54 547.03 L364.56 547.03 L365.57 547.03 L366.59 547.03 L367.61 547.03 L368.63 547.03 L369.65 547.03 L370.67 547.03 L371.69 547.03 L372.71 547.03 L373.72 547.03 L374.74 547.03 L375.76 547.03 L376.78 547.03 L377.80 547.03 L378.82 547.03 L379.84 547.03 L380.86 547.03 L381.88 547.03 L382.89 547.03 L383.91 547.03 L384.93 547.02 L385.95 547.02 L386.97 547.02 L387.99 547.01 L389.01 547.00 L390.02 546.98 L391.04 546.92 L392.06 546.82 L393.08 546.61 L394.10 546.21 L395.12 545.50 L396.14 544.37 L397.16 542.87 L398.18 541.29 L399.19 539.99 L400.21 539.12 L401.23 538.61 L402.25 538.34 L403.27 538.20 L404.29 538.13 L405.31 538.09 L406.32 538.08 L407.34 538.07 L408.36 538.06 L409.38 538.06 L410.40 538.06 L411.42 538.06 L412.44 538.06 L413.46 538.06 L414.48 538.06 L415.49 538.06 L416.51 538.06 L417.53 538.06 L418.55 538.06 L419.57 538.06 L420.59 538.06 L421.61 538.06 L422.62 538.06 L423.64 538.06 L424.66 538.06 L425.68 538.06 L426.70 538.06" fill="none" stroke="#1d4f91" stroke-width="1.44"/>
<path d="M345.20 547.03 L346.22 547.03 L347.24 547.03 L348.26 547.03 L349.27 547.03 L350.29 547.03 L351.31 547.03 L352.33 547.03 L353.35 547.03 L354.37 547.03 L355.39 547.03 L356.41 547.03 L357.43 547.03 L358.44 547.03 L359.46 547.03 L360.48 547.03 L361.50 547.03 L362.52 547.03 L363.54 547.03 L364.56 547.03 L365.57 547.03 L366.59 547.03 L367.61 547.03 L368.63 547.03 L369.65 547.03 L370.67 547.03 L371.69 547.03 L372.71 547.03 L373.72 547.03 L374.74 547.03 L375.76 547.03 L376.78 547.03 L377.80 547.03 L378.82 547.03 L379.84 547.03 L380.86 547.03 L381.88 547.03 L382.89 547.03 L383.91 547.03 L384.93 547.03 L385.95 547.03 L386.97 547.02 L387.99 547.02 L389.01 547.02 L390.02 547.01 L391.04 547.00 L392.06 546.97 L393.08 546.90 L394.10 546.78 L395.12 546.54 L396.14 546.09 L397.16 545.31 L398.18 544.15 L399.19 542.75 L400.21 541.41 L401.23 540.40 L402.25 539.77 L403.27 539.41 L404.29 539.22 L405.31 539.13 L406.32 539.08 L407.34 539.06 L408.36 539.05 L409.38 539.04 L410.40 539.04 L411.42 539.04 L412.44 539.04 L413.46 539.04 L414.48 539.04 L415.49 539.04 L416.51 539.04 L417.53 539.04 L418.55 539.04 L419.57 539.04 L420.59 539.04 L421.61 539.04 L422.62 539.04 L423.64 539.04 L424.66 539.04 L425.68 539.04 L426.70 539.04" fill="none" stroke="#39b54a" stroke-width="1.44"/>
<path d="M345.20 547.35 L346.22 547.35 L347.24 547.35 L348.26 547.35 L349.27 547.35 L350.29 547.35 L351.31 547.35 L352.33 547.35 L353.35 547.35 L354.37 547.35 L355.39 547.35 L356.41 547.35 L357.43 547.35 L358.44 547.35 L359.46 547.35 L360.48 547.35 L361.50 547.35 L362.52 547.35 L363.54 547.35 L364.56 547.35 L365.57 547.35 L366.59 547.35 L367.61 547.35 L368.63 547.35 L369.65 547.35 L370.67 547.36 L371.69 547.36 L372.71 547.37 L373.72 547.40 L374.74 547.46 L375.76 547.60 L376.78 547.91 L377.80 548.53 L378.82 549.54 L379.84 550.79 L380.86 551.87 L381.88 552.56 L382.89 552.92 L383.91 553.09 L384.93 553.17 L385.95 553.20 L386.97 553.21 L387.99 553.22 L389.01 553.22 L390.02 553.22 L391.04 553.22 L392.06 553.22 L393.08 553.22 L394.10 553.22 L395.12 553.22 L396.14 553.22 L397.16 553.22 L398.18 553.22 L399.19 553.22 L400.21 553.22 L401.23 553.22 L402.25 553.22 L403.27 553.22 L404.29 553.22 L405.31 553.22 L406.32 553.22 L407.34 553.22 L408.36 553.22 L409.38 553.22 L410.40 553.22 L411.42 553.22 L412.44 553.22 L413.46 553.22 L414.48 553.22 L415.49 553.22 L416.51 553.22 L417.53 553.22 L418.55 553.22 L419.57 553.22 L420.59 553.22 L421.61 553.22 L422.62 553.22 L423.64 553.22 L424.66 553.22 L425.68 553.22 L426.70 553.22" fill="none" stroke="#f7941d" stroke-width="1.44"/>
<path d="M345.20 547.35 L346.22 547.35 L347.24 547.35 L348.26 547.35 L349.27 547.35 L350.29 547.35 L351.31 547.35 L352.33 547.35 L353.35 547.35 L354.37 547.35 L355.39 547.35 L356.41 547.35 L357.43 547.35 L358.44 547.35 L359.46 547.35 L360.48 547.35 L361.50 547.35 L362.52 547.36 L363.54 547.36 L364.56 547.37 L365.57 547.38 L366.59 547.40 L367.61 547.43 L368.63 547.50 L369.65 547.60 L370.67 547.79 L371.69 548.11 L372.71 548.62 L373.72 549.41 L374.74 550.52 L375.76 551.90 L376.78 553.36 L377.80 554.70 L378.82 555.74 L379.84 556.47 L380.86 556.94 L381.88 557.23 L382.89 557.40 L383.91 557.49 L384.93 557.55 L385.95 557.58 L386.97 557.60 L387.99 557.61 L389.01 557.61 L390.02 557.62 L391.04 557.62 L392.06 557.62 L393.08 557.62 L394.10 557.62 L395.12 557.62 L396.14 557.62 L397.16 557.62 L398.18 557.62 L399.19 557.62 L400.21 557.62 L401.23 557.62 L402.25 557.62 L403.27 557.62 L404.29 557.62 L405.31 557.62 L406.32 557.62 L407.34 557.62 L408.36 557.62 L409.38 557.62 L410.40 557.62 L411.42 557.62 L412.44 557.62 L413.46 557.62 L414.48 557.62 L415.49 557.62 L416.51 557.62 L417.53 557.62 L418.55 557.62 L419.57 557.62 L420.59 557.62 L421.61 557.62 L422.62 557.62 L423.64 557.62 L424.66 557.62 L425.68 557.62 L426.70 557.62" fill="none" stroke="#29abe2" stroke-width="1.56"/>
<path d="M345.20 547.52 L346.22 547.52 L347.24 547.52 L348.26 547.51 L349.27 547.51 L350.29 547.51 L351.31 547.51 L352.33 547.51 L353.35 547.51 L354.37 547.51 L355.39 547.51 L356.41 547.51 L357.43 547.51 L358.44 547.51 L359.46 547.51 L360.48 547.51 L361.50 547.51 L362.52 547.51 L363.54 547.51 L364.56 547.51 L365.57 547.51 L366.59 547.51 L367.61 547.51 L368.63 547.51 L369.65 547.51 L370.67 547.51 L371.69 547.51 L372.71 547.51 L373.72 547.51 L374.74 547.51 L375.76 547.51 L376.78 547.51 L377.80 547.51 L378.82 547.51 L379.84 547.51 L380.86 547.51 L381.88 547.51 L382.89 547.51 L383.91 547.51 L384.93 547.51 L385.95 547.51 L386.97 547.51 L387.99 547.51 L389.01 547.50 L390.02 547.48 L391.04 547.45 L392.06 547.38 L393.08 547.25 L394.10 547.00 L395.12 546.54 L396.14 545.82 L397.16 544.87 L398.18 543.86 L399.19 543.04 L400.21 542.48 L401.23 542.16 L402.25 541.98 L403.27 541.90 L404.29 541.85 L405.31 541.83 L406.32 541.82 L407.34 541.81 L408.36 541.81 L409.38 541.81 L410.40 541.81 L411.42 541.81 L412.44 541.81 L413.46 541.81 L414.48 541.81 L415.49 541.81 L416.51 541.81 L417.53 541.81 L418.55 541.81 L419.57 541.81 L420.59 541.81 L421.61 541.81 L422.62 541.81 L423.64 541.81 L424.66 541.81 L425.68 541.81 L426.70 541.81" fill="none" stroke="#662d91" stroke-width="1.44"/>
<path d="M345.20 546.37 L346.22 545.69 L347.24 545.02 L348.26 544.35 L349.27 543.68 L350.29 543.00 L351.31 542.31 L352.33 541.61 L353.35 540.88 L354.37 540.11 L355.39 539.29 L356.41 538.45 L357.43 537.58 L358.44 536.69 L359.46 535.80 L360.48 534.90 L361.50 534.02 L362.52 533.16 L363.54 532.33 L364.56 531.54 L365.57 530.79 L366.59 530.10 L367.61 529.47 L368.63 528.89 L369.65 528.33 L370.67 527.79 L371.69 527.26 L372.71 526.76 L373.72 526.27 L374.74 525.80 L375.76 525.34 L376.78 524.91 L377.80 524.49 L378.82 524.08 L379.84 523.69 L380.86 523.32 L381.88 522.96 L382.89 522.62 L383.91 522.28 L384.93 521.94 L385.95 521.61 L386.97 521.28 L387.99 520.96 L389.01 520.66 L390.02 520.37 L391.04 520.09 L392.06 519.83 L393.08 519.58 L394.10 519.36 L395.12 519.16 L396.14 518.98 L397.16 518.83 L398.18 518.70 L399.19 518.56 L400.21 518.43 L401.23 518.31 L402.25 518.19 L403.27 518.07 L404.29 517.96 L405.31 517.86 L406.32 517.77 L407.34 517.70 L408.36 517.63 L409.38 517.58 L410.40 517.55 L411.42 517.53 L412.44 517.52 L413.46 517.52 L414.48 517.52 L415.49 517.52 L416.51 517.52 L417.53 517.52 L418.55 517.52 L419.57 517.52 L420.59 517.52 L421.61 517.52 L422.62 517.52 L423.64 517.52 L424.66 517.52 L425.68 517.52 L426.70 517.52" fill="none" stroke="#c8102e" stroke-width="1.56"/>
<line x1="353.19" y1="545.88" x2="353.19" y2="547.52" stroke="#1d4f91" stroke-width="1.0" />
<line x1="351.59" y1="545.88" x2="354.79" y2="545.88" stroke="#1d4f91" stroke-width="1.0" />
<line x1="351.59" y1="547.52" x2="354.79" y2="547.52" stroke="#1d4f91" stroke-width="1.0" />
<path d="M353.19 548.98L355.28 545.18L351.10 545.18Z" fill="#1d4f91"/>
<line x1="367.69" y1="545.88" x2="367.69" y2="547.52" stroke="#1d4f91" stroke-width="1.0" />
<line x1="366.09" y1="545.88" x2="369.29" y2="545.88" stroke="#1d4f91" stroke-width="1.0" />
<line x1="366.09" y1="547.52" x2="369.29" y2="547.52" stroke="#1d4f91" stroke-width="1.0" />
<path d="M367.69 548.98L369.78 545.18L365.60 545.18Z" fill="#1d4f91"/>
<line x1="382.53" y1="544.25" x2="382.53" y2="547.52" stroke="#1d4f91" stroke-width="1.0" />
<line x1="380.93" y1="544.25" x2="384.13" y2="544.25" stroke="#1d4f91" stroke-width="1.0" />
<line x1="380.93" y1="547.52" x2="384.13" y2="547.52" stroke="#1d4f91" stroke-width="1.0" />
<path d="M382.53 548.16L384.62 544.37L380.44 544.37Z" fill="#1d4f91"/>
<line x1="397.20" y1="541.81" x2="397.20" y2="545.07" stroke="#1d4f91" stroke-width="1.0" />
<line x1="395.60" y1="541.81" x2="398.80" y2="541.81" stroke="#1d4f91" stroke-width="1.0" />
<line x1="395.60" y1="545.07" x2="398.80" y2="545.07" stroke="#1d4f91" stroke-width="1.0" />
<path d="M397.20 545.72L399.29 541.92L395.11 541.92Z" fill="#1d4f91"/>
<line x1="412.03" y1="536.11" x2="412.03" y2="539.37" stroke="#1d4f91" stroke-width="1.0" />
<line x1="410.43" y1="536.11" x2="413.63" y2="536.11" stroke="#1d4f91" stroke-width="1.0" />
<line x1="410.43" y1="539.37" x2="413.63" y2="539.37" stroke="#1d4f91" stroke-width="1.0" />
<path d="M412.03 540.01L414.12 536.22L409.94 536.22Z" fill="#1d4f91"/>
<line x1="426.70" y1="536.11" x2="426.70" y2="539.37" stroke="#1d4f91" stroke-width="1.0" />
<line x1="425.10" y1="536.11" x2="428.30" y2="536.11" stroke="#1d4f91" stroke-width="1.0" />
<line x1="425.10" y1="539.37" x2="428.30" y2="539.37" stroke="#1d4f91" stroke-width="1.0" />
<path d="M426.70 540.01L428.79 536.22L424.61 536.22Z" fill="#1d4f91"/>
<line x1="382.53" y1="545.88" x2="382.53" y2="549.15" stroke="#39b54a" stroke-width="1.0" />
<line x1="380.93" y1="545.88" x2="384.13" y2="545.88" stroke="#39b54a" stroke-width="1.0" />
<line x1="380.93" y1="549.15" x2="384.13" y2="549.15" stroke="#39b54a" stroke-width="1.0" />
<path d="M382.53 545.24L384.62 549.04L380.44 549.04Z" fill="#39b54a"/>
<line x1="397.20" y1="543.44" x2="397.20" y2="546.70" stroke="#39b54a" stroke-width="1.0" />
<line x1="395.60" y1="543.44" x2="398.80" y2="543.44" stroke="#39b54a" stroke-width="1.0" />
<line x1="395.60" y1="546.70" x2="398.80" y2="546.70" stroke="#39b54a" stroke-width="1.0" />
<path d="M397.20 542.79L399.29 546.59L395.11 546.59Z" fill="#39b54a"/>
<line x1="412.03" y1="537.25" x2="412.03" y2="540.51" stroke="#39b54a" stroke-width="1.0" />
<line x1="410.43" y1="537.25" x2="413.63" y2="537.25" stroke="#39b54a" stroke-width="1.0" />
<line x1="410.43" y1="540.51" x2="413.63" y2="540.51" stroke="#39b54a" stroke-width="1.0" />
<path d="M412.03 536.60L414.12 540.40L409.94 540.40Z" fill="#39b54a"/>
<line x1="426.70" y1="537.74" x2="426.70" y2="541.00" stroke="#39b54a" stroke-width="1.0" />
<line x1="425.10" y1="537.74" x2="428.30" y2="537.74" stroke="#39b54a" stroke-width="1.0" />
<line x1="425.10" y1="541.00" x2="428.30" y2="541.00" stroke="#39b54a" stroke-width="1.0" />
<path d="M426.70 537.09L428.79 540.88L424.61 540.88Z" fill="#39b54a"/>
<line x1="353.19" y1="547.52" x2="353.19" y2="549.15" stroke="#f7941d" stroke-width="1.0" />
<line x1="351.59" y1="547.52" x2="354.79" y2="547.52" stroke="#f7941d" stroke-width="1.0" />
<line x1="351.59" y1="549.15" x2="354.79" y2="549.15" stroke="#f7941d" stroke-width="1.0" />
<path d="M353.19 546.05L355.28 549.85L351.10 549.85Z" fill="#f7941d"/>
<line x1="367.69" y1="541.00" x2="367.69" y2="547.52" stroke="#f7941d" stroke-width="1.0" />
<line x1="366.09" y1="541.00" x2="369.29" y2="541.00" stroke="#f7941d" stroke-width="1.0" />
<line x1="366.09" y1="547.52" x2="369.29" y2="547.52" stroke="#f7941d" stroke-width="1.0" />
<path d="M367.69 544.42L369.78 548.22L365.60 548.22Z" fill="#f7941d"/>
<line x1="382.53" y1="552.41" x2="382.53" y2="555.67" stroke="#f7941d" stroke-width="1.0" />
<line x1="380.93" y1="552.41" x2="384.13" y2="552.41" stroke="#f7941d" stroke-width="1.0" />
<line x1="380.93" y1="555.67" x2="384.13" y2="555.67" stroke="#f7941d" stroke-width="1.0" />
<path d="M382.53 551.76L384.62 555.56L380.44 555.56Z" fill="#f7941d"/>
<line x1="412.03" y1="550.78" x2="412.03" y2="555.67" stroke="#f7941d" stroke-width="1.0" />
<line x1="410.43" y1="550.78" x2="413.63" y2="550.78" stroke="#f7941d" stroke-width="1.0" />
<line x1="410.43" y1="555.67" x2="413.63" y2="555.67" stroke="#f7941d" stroke-width="1.0" />
<path d="M412.03 551.76L414.12 555.56L409.94 555.56Z" fill="#f7941d"/>
<line x1="426.70" y1="553.22" x2="426.70" y2="554.85" stroke="#f7941d" stroke-width="1.0" />
<line x1="425.10" y1="553.22" x2="428.30" y2="553.22" stroke="#f7941d" stroke-width="1.0" />
<line x1="425.10" y1="554.85" x2="428.30" y2="554.85" stroke="#f7941d" stroke-width="1.0" />
<path d="M426.70 551.76L428.79 555.56L424.61 555.56Z" fill="#f7941d"/>
<line x1="353.19" y1="546.70" x2="353.19" y2="548.33" stroke="#29abe2" stroke-width="1.0" />
<line x1="351.59" y1="546.70" x2="354.79" y2="546.70" stroke="#29abe2" stroke-width="1.0" />
<line x1="351.59" y1="548.33" x2="354.79" y2="548.33" stroke="#29abe2" stroke-width="1.0" />
<rect x="351.29" y="545.62" width="3.80" height="3.80" fill="#29abe2"/>
<line x1="367.69" y1="546.21" x2="367.69" y2="547.84" stroke="#29abe2" stroke-width="1.0" />
<line x1="366.09" y1="546.21" x2="369.29" y2="546.21" stroke="#29abe2" stroke-width="1.0" />
<line x1="366.09" y1="547.84" x2="369.29" y2="547.84" stroke="#29abe2" stroke-width="1.0" />
<rect x="365.79" y="545.13" width="3.80" height="3.80" fill="#29abe2"/>
<line x1="382.53" y1="556.48" x2="382.53" y2="558.11" stroke="#29abe2" stroke-width="1.0" />
<line x1="380.93" y1="556.48" x2="384.13" y2="556.48" stroke="#29abe2" stroke-width="1.0" />
<line x1="380.93" y1="558.11" x2="384.13" y2="558.11" stroke="#29abe2" stroke-width="1.0" />
<rect x="380.63" y="555.40" width="3.80" height="3.80" fill="#29abe2"/>
<line x1="397.20" y1="553.22" x2="397.20" y2="559.74" stroke="#29abe2" stroke-width="1.0" />
<line x1="395.60" y1="553.22" x2="398.80" y2="553.22" stroke="#29abe2" stroke-width="1.0" />
<line x1="395.60" y1="559.74" x2="398.80" y2="559.74" stroke="#29abe2" stroke-width="1.0" />
<rect x="395.30" y="556.21" width="3.80" height="3.80" fill="#29abe2"/>
<line x1="412.03" y1="546.70" x2="412.03" y2="558.93" stroke="#29abe2" stroke-width="1.0" />
<line x1="410.43" y1="546.70" x2="413.63" y2="546.70" stroke="#29abe2" stroke-width="1.0" />
<line x1="410.43" y1="558.93" x2="413.63" y2="558.93" stroke="#29abe2" stroke-width="1.0" />
<rect x="410.13" y="553.77" width="3.80" height="3.80" fill="#29abe2"/>
<line x1="426.70" y1="546.70" x2="426.70" y2="558.93" stroke="#29abe2" stroke-width="1.0" />
<line x1="425.10" y1="546.70" x2="428.30" y2="546.70" stroke="#29abe2" stroke-width="1.0" />
<line x1="425.10" y1="558.93" x2="428.30" y2="558.93" stroke="#29abe2" stroke-width="1.0" />
<rect x="424.80" y="556.21" width="3.80" height="3.80" fill="#29abe2"/>
<circle cx="367.69" cy="548.33" r="1.70" fill="#fff" stroke="#662d91" stroke-width="1"/>
<circle cx="382.53" cy="549.15" r="1.70" fill="#fff" stroke="#662d91" stroke-width="1"/>
<circle cx="426.70" cy="541.81" r="1.70" fill="#fff" stroke="#662d91" stroke-width="1"/>
<circle cx="345.20" cy="546.70" r="1.90" fill="#c8102e"/>
<line x1="353.19" y1="538.55" x2="353.19" y2="543.44" stroke="#c8102e" stroke-width="1.0" />
<line x1="351.59" y1="538.55" x2="354.79" y2="538.55" stroke="#c8102e" stroke-width="1.0" />
<line x1="351.59" y1="543.44" x2="354.79" y2="543.44" stroke="#c8102e" stroke-width="1.0" />
<circle cx="353.19" cy="541.00" r="1.90" fill="#c8102e"/>
<line x1="367.69" y1="525.02" x2="367.69" y2="533.17" stroke="#c8102e" stroke-width="1.0" />
<line x1="366.09" y1="525.02" x2="369.29" y2="525.02" stroke="#c8102e" stroke-width="1.0" />
<line x1="366.09" y1="533.17" x2="369.29" y2="533.17" stroke="#c8102e" stroke-width="1.0" />
<circle cx="367.69" cy="529.10" r="1.90" fill="#c8102e"/>
<line x1="382.53" y1="519.97" x2="382.53" y2="527.14" stroke="#c8102e" stroke-width="1.0" />
<line x1="380.93" y1="519.97" x2="384.13" y2="519.97" stroke="#c8102e" stroke-width="1.0" />
<line x1="380.93" y1="527.14" x2="384.13" y2="527.14" stroke="#c8102e" stroke-width="1.0" />
<circle cx="382.53" cy="523.55" r="1.90" fill="#c8102e"/>
<line x1="397.20" y1="516.87" x2="397.20" y2="520.13" stroke="#c8102e" stroke-width="1.0" />
<line x1="395.60" y1="516.87" x2="398.80" y2="516.87" stroke="#c8102e" stroke-width="1.0" />
<line x1="395.60" y1="520.13" x2="398.80" y2="520.13" stroke="#c8102e" stroke-width="1.0" />
<circle cx="397.20" cy="518.50" r="1.90" fill="#c8102e"/>
<line x1="412.03" y1="514.10" x2="412.03" y2="520.62" stroke="#c8102e" stroke-width="1.0" />
<line x1="410.43" y1="514.10" x2="413.63" y2="514.10" stroke="#c8102e" stroke-width="1.0" />
<line x1="410.43" y1="520.62" x2="413.63" y2="520.62" stroke="#c8102e" stroke-width="1.0" />
<circle cx="412.03" cy="517.36" r="1.90" fill="#c8102e"/>
<line x1="426.70" y1="515.40" x2="426.70" y2="520.29" stroke="#c8102e" stroke-width="1.0" />
<line x1="425.10" y1="515.40" x2="428.30" y2="515.40" stroke="#c8102e" stroke-width="1.0" />
<line x1="425.10" y1="520.29" x2="428.30" y2="520.29" stroke="#c8102e" stroke-width="1.0" />
<circle cx="426.70" cy="517.85" r="1.90" fill="#c8102e"/>
<line x1="440.70" y1="352.10" x2="449.70" y2="352.10" stroke="#c8102e" stroke-width="1.4" />
<circle cx="445.20" cy="352.10" r="1.70" fill="#c8102e"/>
<text x="453.00" y="354.80" font-size="7.6" text-anchor="start" fill="#222" stroke="#222" stroke-width="0.12" textLength="28.00" lengthAdjust="spacingAndGlyphs" >H3K4me3</text>
<line x1="440.70" y1="362.20" x2="449.70" y2="362.20" stroke="#29abe2" stroke-width="1.4" />
<rect x="443.50" y="360.50" width="3.40" height="3.40" fill="#29abe2"/>
<text x="453.00" y="364.90" font-size="7.6" text-anchor="start" fill="#222" stroke="#222" stroke-width="0.12" textLength="28.00" lengthAdjust="spacingAndGlyphs" >H3K4me2</text>
<line x1="440.70" y1="372.20" x2="449.70" y2="372.20" stroke="#f7941d" stroke-width="1.4" />
<path d="M445.20 370.16L447.07 373.56L443.33 373.56Z" fill="#f7941d"/>
<text x="453.00" y="374.90" font-size="7.6" text-anchor="start" fill="#222" stroke="#222" stroke-width="0.12" textLength="28.00" lengthAdjust="spacingAndGlyphs" >H3K4me1</text>
<line x1="440.70" y1="382.20" x2="449.70" y2="382.20" stroke="#1d4f91" stroke-width="1.4" />
<path d="M445.20 384.24L447.07 380.84L443.33 380.84Z" fill="#1d4f91"/>
<text x="453.00" y="384.90" font-size="7.6" text-anchor="start" fill="#222" stroke="#222" stroke-width="0.12" textLength="32.30" lengthAdjust="spacingAndGlyphs" >H3K36me3</text>
<line x1="440.70" y1="392.30" x2="449.70" y2="392.30" stroke="#662d91" stroke-width="1.4" />
<circle cx="445.20" cy="392.30" r="1.50" fill="#fff" stroke="#662d91" stroke-width="1"/>
<text x="453.00" y="395.00" font-size="7.6" text-anchor="start" fill="#222" stroke="#222" stroke-width="0.12" textLength="28.00" lengthAdjust="spacingAndGlyphs" >H3K9me3</text>
<line x1="440.70" y1="402.30" x2="449.70" y2="402.30" stroke="#39b54a" stroke-width="1.4" />
<path d="M445.20 400.26L447.07 403.66L443.33 403.66Z" fill="#39b54a"/>
<text x="453.00" y="405.00" font-size="7.6" text-anchor="start" fill="#222" stroke="#222" stroke-width="0.12" textLength="32.30" lengthAdjust="spacingAndGlyphs" >H3K27me3</text>
<line x1="490.90" y1="349.90" x2="490.90" y2="374.60" stroke="#333" stroke-width="1.4" />
<line x1="490.90" y1="379.50" x2="490.90" y2="397.10" stroke="#333" stroke-width="1.4" />
<line x1="490.90" y1="400.20" x2="490.90" y2="406.30" stroke="#333" stroke-width="1.4" />
<text x="494.30" y="366.40" font-size="7.6" text-anchor="start" fill="#222" stroke="#222" stroke-width="0.12" textLength="17.40" lengthAdjust="spacingAndGlyphs" >KDM5</text>
<text x="494.30" y="390.70" font-size="7.6" text-anchor="start" fill="#222" stroke="#222" stroke-width="0.12" textLength="17.40" lengthAdjust="spacingAndGlyphs" >KDM4</text>
<text x="494.30" y="405.90" font-size="7.6" text-anchor="start" fill="#222" stroke="#222" stroke-width="0.12" textLength="17.40" lengthAdjust="spacingAndGlyphs" >KDM6</text>
<line x1="441.10" y1="503.00" x2="450.10" y2="503.00" stroke="#c8102e" stroke-width="1.4" />
<circle cx="445.60" cy="503.00" r="1.70" fill="#c8102e"/>
<text x="453.70" y="505.70" font-size="7.6" text-anchor="start" fill="#222" stroke="#222" stroke-width="0.12" textLength="28.00" lengthAdjust="spacingAndGlyphs" >H3K4me3</text>
<line x1="441.10" y1="513.00" x2="450.10" y2="513.00" stroke="#29abe2" stroke-width="1.4" />
<rect x="443.90" y="511.30" width="3.40" height="3.40" fill="#29abe2"/>
<text x="453.70" y="515.70" font-size="7.6" text-anchor="start" fill="#222" stroke="#222" stroke-width="0.12" textLength="28.00" lengthAdjust="spacingAndGlyphs" >H3K4me2</text>
<line x1="441.10" y1="523.20" x2="450.10" y2="523.20" stroke="#f7941d" stroke-width="1.4" />
<path d="M445.60 521.16L447.47 524.56L443.73 524.56Z" fill="#f7941d"/>
<text x="453.70" y="525.90" font-size="7.6" text-anchor="start" fill="#222" stroke="#222" stroke-width="0.12" textLength="28.00" lengthAdjust="spacingAndGlyphs" >H3K4me1</text>
<line x1="441.10" y1="533.30" x2="450.10" y2="533.30" stroke="#1d4f91" stroke-width="1.4" />
<path d="M445.60 535.34L447.47 531.94L443.73 531.94Z" fill="#1d4f91"/>
<text x="453.70" y="536.00" font-size="7.6" text-anchor="start" fill="#222" stroke="#222" stroke-width="0.12" textLength="32.30" lengthAdjust="spacingAndGlyphs" >H3K36me3</text>
<line x1="441.10" y1="543.70" x2="450.10" y2="543.70" stroke="#662d91" stroke-width="1.4" />
<circle cx="445.60" cy="543.70" r="1.50" fill="#fff" stroke="#662d91" stroke-width="1"/>
<text x="453.70" y="546.40" font-size="7.6" text-anchor="start" fill="#222" stroke="#222" stroke-width="0.12" textLength="28.00" lengthAdjust="spacingAndGlyphs" >H3K9me3</text>
<line x1="441.10" y1="553.70" x2="450.10" y2="553.70" stroke="#39b54a" stroke-width="1.4" />
<path d="M445.60 551.66L447.47 555.06L443.73 555.06Z" fill="#39b54a"/>
<text x="453.70" y="556.40" font-size="7.6" text-anchor="start" fill="#222" stroke="#222" stroke-width="0.12" textLength="32.30" lengthAdjust="spacingAndGlyphs" >H3K27me3</text>
<line x1="489.40" y1="499.50" x2="489.40" y2="523.40" stroke="#333" stroke-width="1.4" />
<line x1="489.40" y1="528.90" x2="489.40" y2="546.60" stroke="#333" stroke-width="1.4" />
<line x1="489.40" y1="549.70" x2="489.40" y2="555.80" stroke="#333" stroke-width="1.4" />
<text x="492.80" y="516.40" font-size="7.6" text-anchor="start" fill="#222" stroke="#222" stroke-width="0.12" textLength="17.40" lengthAdjust="spacingAndGlyphs" >KDM5</text>
<text x="492.80" y="541.20" font-size="7.6" text-anchor="start" fill="#222" stroke="#222" stroke-width="0.12" textLength="17.40" lengthAdjust="spacingAndGlyphs" >KDM4</text>
<text x="492.80" y="555.40" font-size="7.6" text-anchor="start" fill="#222" stroke="#222" stroke-width="0.12" textLength="17.40" lengthAdjust="spacingAndGlyphs" >KDM6</text>
<rect x="0.00" y="0.00" width="520.00" height="1.50" fill="#000" stroke="none" stroke-width="1" />
<rect x="0.00" y="0.00" width="1.70" height="617.00" fill="#000" stroke="none" stroke-width="1" />
<rect x="518.40" y="0.00" width="1.60" height="617.00" fill="#000" stroke="none" stroke-width="1" />
<rect x="0.00" y="615.40" width="520.00" height="1.60" fill="#000" stroke="none" stroke-width="1" />
</svg>
</body></html>
